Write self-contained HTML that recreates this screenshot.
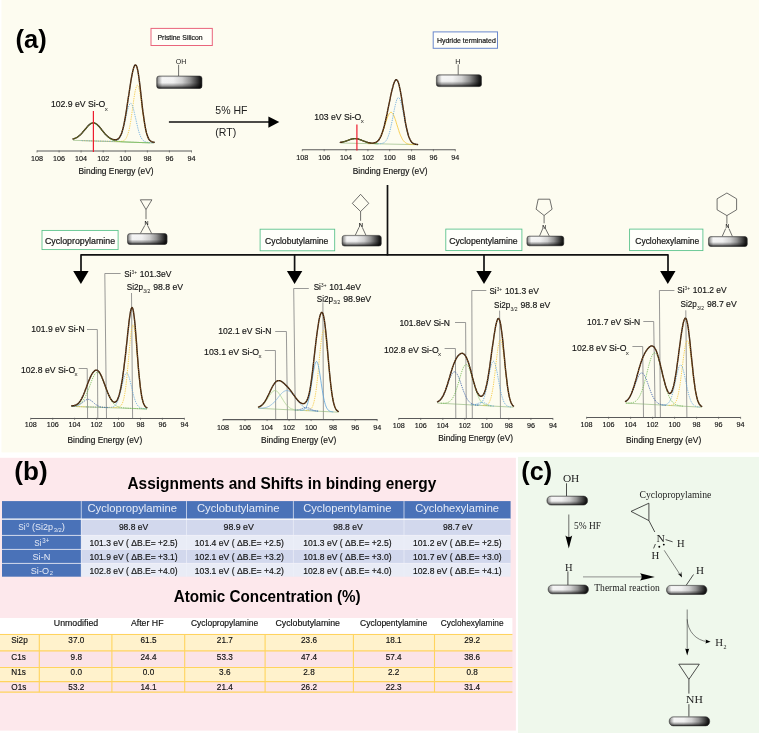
<!DOCTYPE html>
<html lang="en"><head><meta charset="utf-8"><title>XPS Si2p spectra of amine-modified silicon</title>
<style>html,body{margin:0;padding:0;background:#fff}svg{display:block}text{font-family:"Liberation Sans", sans-serif}text.sf{font-family:"Liberation Serif", serif}</style></head><body>
<svg width="759" height="733" viewBox="0 0 759 733">
<defs>
<linearGradient id="sh" x1="0" y1="0" x2="1" y2="0">
<stop offset="0" stop-color="#555"/><stop offset="0.04" stop-color="#a8a8a8"/><stop offset="0.12" stop-color="#f6f6f6"/>
<stop offset="0.36" stop-color="#f3f3f3"/><stop offset="0.56" stop-color="#d2d2d2"/><stop offset="0.73" stop-color="#939393"/>
<stop offset="0.87" stop-color="#484848"/><stop offset="0.95" stop-color="#1c1c1c"/><stop offset="1" stop-color="#101010"/>
</linearGradient>
<linearGradient id="sv" x1="0" y1="0" x2="0" y2="1">
<stop offset="0" stop-color="#000" stop-opacity="0.3"/><stop offset="0.13" stop-color="#000" stop-opacity="0"/>
<stop offset="0.55" stop-color="#000" stop-opacity="0.02"/><stop offset="0.8" stop-color="#000" stop-opacity="0.38"/>
<stop offset="1" stop-color="#000" stop-opacity="0.88"/>
</linearGradient>
</defs>
<rect x="0" y="0" width="759" height="733" fill="#ffffff"/>
<rect x="1.5" y="0" width="757.5" height="452.4" fill="#fdfcf0"/>
<rect x="0" y="457.8" width="515.9" height="272.8" fill="#fde8ec"/>
<rect x="518" y="456.9" width="241" height="276.1" fill="#eff8ec"/>
<text x="15.6" y="47.8" font-size="25" fill="#000" font-weight="bold" textLength="31.2" lengthAdjust="spacingAndGlyphs">(a)</text>
<rect x="151" y="28.4" width="61.3" height="17.1" fill="#fffef8" stroke="#e9647c" stroke-width="1"/>
<text x="157.5" y="39.6" font-size="7.6" fill="#141414" textLength="45.1" lengthAdjust="spacingAndGlyphs" stroke="#141414" stroke-width="0.2">Pristine Silicon</text>
<text x="175.8" y="63.9" font-size="7.6" fill="#222" textLength="10.6" lengthAdjust="spacingAndGlyphs">OH</text>
<line x1="178.6" y1="64.8" x2="178.6" y2="76.0" stroke="#333" stroke-width="0.7" />
<rect x="156.7" y="76.0" width="45.3" height="12.4" rx="2.5" fill="url(#sh)"/>
<rect x="156.7" y="76.0" width="45.3" height="12.4" rx="2.5" fill="url(#sv)" stroke="#3a3a3a" stroke-width="0.55"/>
<line x1="168.9" y1="122.0" x2="270.0" y2="122.0" stroke="#111" stroke-width="1.7" />
<polygon points="268.4,116.4 279.3,122.0 268.4,127.8" fill="#000" stroke="none" stroke-width="0" />
<text x="215.3" y="114.2" font-size="10.5" fill="#222" textLength="32.2" lengthAdjust="spacingAndGlyphs">5% HF</text>
<text x="215.3" y="136.2" font-size="10.5" fill="#222" textLength="21.0" lengthAdjust="spacingAndGlyphs">(RT)</text>
<rect x="433.2" y="31.9" width="64.3" height="16.4" fill="#fffffa" stroke="#6a88cc" stroke-width="1"/>
<text x="436.9" y="43.0" font-size="7.4" fill="#141414" textLength="58.9" lengthAdjust="spacingAndGlyphs" stroke="#141414" stroke-width="0.2">Hydride terminated</text>
<text x="457.9" y="63.6" font-size="7.2" fill="#222" text-anchor="middle">H</text>
<line x1="458.2" y1="64.5" x2="458.2" y2="74.8" stroke="#333" stroke-width="0.7" />
<rect x="436.4" y="74.8" width="45.1" height="11.8" rx="2.5" fill="url(#sh)"/>
<rect x="436.4" y="74.8" width="45.1" height="11.8" rx="2.5" fill="url(#sv)" stroke="#3a3a3a" stroke-width="0.55"/>
<line x1="73.0" y1="140.3" x2="154.1" y2="143.0" stroke="#86b070" stroke-width="0.6" />
<polyline points="82.1,140.6 82.6,140.6 83.1,140.6 83.6,140.6 84.2,140.6 84.7,140.6 85.2,140.7 85.7,140.7 86.2,140.7 86.7,140.7 87.2,140.7 87.7,140.7 88.2,140.8 88.7,140.8 89.2,140.8 89.7,140.8 90.2,140.8 90.7,140.8 91.2,140.8 91.8,140.9 92.3,140.9 92.8,140.9 93.3,140.9 93.8,140.9 94.3,140.9 94.8,141.0 95.3,141.0 95.8,141.0 96.3,141.0 96.8,141.0 97.3,141.0 97.8,141.0 98.3,141.1 98.9,141.1 99.4,141.1 99.9,141.1 100.4,141.1 100.9,141.1 101.4,141.2 101.9,141.2 102.4,141.2 102.9,141.2 103.4,141.2 103.9,141.2 104.4,141.2 104.9,141.2 105.4,141.3 105.9,141.3 106.5,141.3 107.0,141.3 107.5,141.3 108.0,141.3 108.5,141.3 109.0,141.3 109.5,141.4 110.0,141.4 110.5,141.4 111.0,141.4 111.5,141.4 112.0,141.4 112.5,141.4 113.0,141.4 113.5,141.4 114.1,141.4 114.6,141.5 115.1,141.5 115.6,141.5 116.1,141.5 116.6,141.5 117.1,141.5 117.6,141.5 118.1,141.5 118.6,141.5 119.1,141.5 119.6,141.4 120.1,141.4 120.6,141.4 121.2,141.3 121.7,141.3 122.2,141.2 122.7,141.1 123.2,140.9 123.7,140.7 124.2,140.4 124.7,140.0 125.2,139.5 125.7,138.9 126.2,138.1 126.7,137.1 127.2,136.0 127.7,134.6 128.2,133.0 128.8,131.1 129.3,128.9 129.8,126.4 130.3,123.7 130.8,120.7 131.3,117.4 131.8,114.0 132.3,110.4 132.8,106.7 133.3,103.0 133.8,99.5 134.3,96.1 134.8,93.0 135.3,90.4 135.9,88.2 136.4,86.5 136.9,85.5 137.4,85.2 137.9,85.5 138.4,86.6 138.9,88.2 139.4,90.4 139.9,93.1 140.4,96.2 140.9,99.6 141.4,103.2 141.9,106.9 142.4,110.6 142.9,114.2 143.5,117.7 144.0,121.0 144.5,124.1 145.0,126.9 145.5,129.4 146.0,131.6 146.5,133.5 147.0,135.2 147.5,136.6 148.0,137.8 148.5,138.8 149.0,139.6 149.5,140.3 150.0,140.8 150.6,141.2 151.1,141.6 151.6,141.8 152.1,142.0 152.6,142.2 153.1,142.3 153.6,142.4 154.1,142.5" fill="none" stroke="#f5c431" stroke-width="0.8" stroke-dasharray="1.3 1"/>
<polyline points="81.6,140.5 82.1,140.6 82.6,140.6 83.1,140.6 83.6,140.6 84.2,140.6 84.7,140.6 85.2,140.7 85.7,140.7 86.2,140.7 86.7,140.7 87.2,140.7 87.7,140.7 88.2,140.8 88.7,140.8 89.2,140.8 89.7,140.8 90.2,140.8 90.7,140.8 91.2,140.8 91.8,140.9 92.3,140.9 92.8,140.9 93.3,140.9 93.8,140.9 94.3,140.9 94.8,141.0 95.3,141.0 95.8,141.0 96.3,141.0 96.8,141.0 97.3,141.0 97.8,141.0 98.3,141.1 98.9,141.1 99.4,141.1 99.9,141.1 100.4,141.1 100.9,141.1 101.4,141.1 101.9,141.1 102.4,141.2 102.9,141.2 103.4,141.2 103.9,141.2 104.4,141.2 104.9,141.2 105.4,141.2 105.9,141.2 106.5,141.3 107.0,141.3 107.5,141.3 108.0,141.3 108.5,141.3 109.0,141.3 109.5,141.3 110.0,141.3 110.5,141.3 111.0,141.3 111.5,141.3 112.0,141.3 112.5,141.3 113.0,141.3 113.5,141.2 114.1,141.2 114.6,141.1 115.1,141.0 115.6,140.9 116.1,140.8 116.6,140.6 117.1,140.3 117.6,140.0 118.1,139.7 118.6,139.2 119.1,138.6 119.6,137.9 120.1,137.1 120.6,136.1 121.2,135.0 121.7,133.7 122.2,132.3 122.7,130.7 123.2,128.9 123.7,127.0 124.2,124.9 124.7,122.7 125.2,120.5 125.7,118.2 126.2,115.9 126.7,113.6 127.2,111.4 127.7,109.4 128.2,107.6 128.8,106.1 129.3,104.9 129.8,104.0 130.3,103.5 130.8,103.4 131.3,103.7 131.8,104.3 132.3,105.4 132.8,106.8 133.3,108.4 133.8,110.4 134.3,112.5 134.8,114.7 135.3,117.0 135.9,119.4 136.4,121.7 136.9,124.0 137.4,126.1 137.9,128.2 138.4,130.1 138.9,131.8 139.4,133.4 139.9,134.8 140.4,136.1 140.9,137.2 141.4,138.1 141.9,138.9 142.4,139.6 142.9,140.2 143.5,140.7 144.0,141.0 144.5,141.4 145.0,141.6 145.5,141.8 146.0,142.0 146.5,142.1 147.0,142.2 147.5,142.3 148.0,142.4 148.5,142.5 149.0,142.5 149.5,142.6 150.0,142.6 150.6,142.6 151.1,142.7 151.6,142.7 152.1,142.7 152.6,142.8 153.1,142.8 153.6,142.8 154.1,142.8" fill="none" stroke="#5aa2dc" stroke-width="0.8" stroke-dasharray="1.3 1"/>
<polyline points="73.0,139.0 73.5,138.9 74.0,138.7 74.5,138.6 75.0,138.4 75.5,138.1 76.0,137.9 76.5,137.6 77.1,137.3 77.6,137.0 78.1,136.7 78.6,136.3 79.1,135.9 79.6,135.5 80.1,135.0 80.6,134.5 81.1,134.0 81.6,133.5 82.1,133.0 82.6,132.4 83.1,131.8 83.6,131.2 84.2,130.6 84.7,130.0 85.2,129.4 85.7,128.8 86.2,128.2 86.7,127.6 87.2,127.0 87.7,126.4 88.2,125.9 88.7,125.4 89.2,124.9 89.7,124.5 90.2,124.1 90.7,123.8 91.2,123.5 91.8,123.3 92.3,123.2 92.8,123.1 93.3,123.0 93.8,123.0 94.3,123.1 94.8,123.3 95.3,123.5 95.8,123.8 96.3,124.1 96.8,124.5 97.3,124.9 97.8,125.4 98.3,125.9 98.9,126.5 99.4,127.0 99.9,127.6 100.4,128.3 100.9,128.9 101.4,129.5 101.9,130.2 102.4,130.8 102.9,131.5 103.4,132.1 103.9,132.7 104.4,133.3 104.9,133.9 105.4,134.5 105.9,135.1 106.5,135.6 107.0,136.1 107.5,136.6 108.0,137.0 108.5,137.4 109.0,137.8 109.5,138.2 110.0,138.5 110.5,138.9 111.0,139.1 111.5,139.4 112.0,139.7 112.5,139.9 113.0,140.1 113.5,140.3 114.1,140.5 114.6,140.6 115.1,140.7 115.6,140.9 116.1,141.0 116.6,141.1 117.1,141.2 117.6,141.3 118.1,141.3 118.6,141.4 119.1,141.5 119.6,141.5 120.1,141.6 120.6,141.6 121.2,141.7 121.7,141.7 122.2,141.7 122.7,141.8 123.2,141.8 123.7,141.8 124.2,141.8 124.7,141.9 125.2,141.9 125.7,141.9 126.2,141.9 126.7,142.0 127.2,142.0 127.7,142.0 128.2,142.0 128.8,142.1 129.3,142.1 129.8,142.1 130.3,142.1 130.8,142.1 131.3,142.2 131.8,142.2 132.3,142.2 132.8,142.2 133.3,142.2 133.8,142.2 134.3,142.3 134.8,142.3 135.3,142.3 135.9,142.3 136.4,142.3 136.9,142.4 137.4,142.4 137.9,142.4 138.4,142.4 138.9,142.4 139.4,142.5 139.9,142.5 140.4,142.5 140.9,142.5 141.4,142.5 141.9,142.5 142.4,142.6 142.9,142.6 143.5,142.6 144.0,142.6 144.5,142.6 145.0,142.6 145.5,142.7 146.0,142.7 146.5,142.7 147.0,142.7 147.5,142.7 148.0,142.8 148.5,142.8 149.0,142.8 149.5,142.8" fill="none" stroke="#68b84a" stroke-width="0.8" />
<polyline points="73.0,139.0 73.5,138.8 74.0,138.7 74.5,138.5 75.0,138.3 75.5,138.1 76.0,137.8 76.5,137.6 77.1,137.3 77.6,136.9 78.1,136.6 78.6,136.2 79.1,135.8 79.6,135.4 80.1,134.9 80.6,134.5 81.1,134.0 81.6,133.4 82.1,132.9 82.6,132.3 83.1,131.7 83.6,131.1 84.2,130.5 84.7,129.9 85.2,129.3 85.7,128.7 86.2,128.1 86.7,127.5 87.2,126.9 87.7,126.3 88.2,125.8 88.7,125.3 89.2,124.8 89.7,124.4 90.2,124.0 90.7,123.7 91.2,123.4 91.8,123.2 92.3,123.0 92.8,122.9 93.3,122.9 93.8,122.9 94.3,123.0 94.8,123.2 95.3,123.4 95.8,123.6 96.3,124.0 96.8,124.3 97.3,124.8 97.8,125.2 98.3,125.7 98.9,126.3 99.4,126.9 99.9,127.5 100.4,128.1 100.9,128.7 101.4,129.3 101.9,130.0 102.4,130.6 102.9,131.2 103.4,131.9 103.9,132.5 104.4,133.1 104.9,133.7 105.4,134.2 105.9,134.8 106.5,135.3 107.0,135.8 107.5,136.3 108.0,136.7 108.5,137.1 109.0,137.5 109.5,137.8 110.0,138.2 110.5,138.5 111.0,138.7 111.5,139.0 112.0,139.2 112.5,139.4 113.0,139.5 113.5,139.7 114.1,139.8 114.6,139.8 115.1,139.9 115.6,139.8 116.1,139.8 116.6,139.7 117.1,139.5 117.6,139.2 118.1,138.9 118.6,138.4 119.1,137.9 119.6,137.2 120.1,136.4 120.6,135.4 121.2,134.2 121.7,132.9 122.2,131.3 122.7,129.6 123.2,127.6 123.7,125.5 124.2,123.1 124.7,120.5 125.2,117.8 125.7,114.8 126.2,111.8 126.7,108.5 127.2,105.2 127.7,101.8 128.2,98.4 128.8,94.9 129.3,91.5 129.8,88.1 130.3,84.9 130.8,81.7 131.3,78.7 131.8,76.0 132.3,73.4 132.8,71.1 133.3,69.1 133.8,67.4 134.3,66.2 134.8,65.3 135.3,64.9 135.9,65.1 136.4,65.7 136.9,67.0 137.4,68.8 137.9,71.2 138.4,74.1 138.9,77.5 139.4,81.3 139.9,85.4 140.4,89.7 140.9,94.2 141.4,98.7 141.9,103.2 142.4,107.6 142.9,111.7 143.5,115.7 144.0,119.4 144.5,122.7 145.0,125.7 145.5,128.5 146.0,130.8 146.5,132.9 147.0,134.6 147.5,136.1 148.0,137.4 148.5,138.4 149.0,139.3 149.5,140.0 150.0,140.5 150.6,140.9 151.1,141.3 151.6,141.6 152.1,141.8 152.6,142.0 153.1,142.1 153.6,142.2 154.1,142.3" fill="none" stroke="#24160c" stroke-width="1.4" stroke-linejoin="round" stroke-linecap="round"/>
<polyline points="73.0,139.0 73.5,138.8 74.0,138.7 74.5,138.5 75.0,138.3 75.5,138.1 76.0,137.8 76.5,137.6 77.1,137.3 77.6,136.9 78.1,136.6 78.6,136.2 79.1,135.8 79.6,135.4 80.1,134.9 80.6,134.5 81.1,134.0 81.6,133.4 82.1,132.9 82.6,132.3 83.1,131.7 83.6,131.1 84.2,130.5 84.7,129.9 85.2,129.3 85.7,128.7 86.2,128.1 86.7,127.5 87.2,126.9 87.7,126.3 88.2,125.8 88.7,125.3 89.2,124.8 89.7,124.4 90.2,124.0 90.7,123.7 91.2,123.4 91.8,123.2 92.3,123.0 92.8,122.9 93.3,122.9 93.8,122.9 94.3,123.0 94.8,123.2 95.3,123.4 95.8,123.6 96.3,124.0 96.8,124.3 97.3,124.8 97.8,125.2 98.3,125.7 98.9,126.3 99.4,126.9 99.9,127.5 100.4,128.1 100.9,128.7 101.4,129.3 101.9,130.0 102.4,130.6 102.9,131.2 103.4,131.9 103.9,132.5 104.4,133.1 104.9,133.7 105.4,134.2 105.9,134.8 106.5,135.3 107.0,135.8 107.5,136.3 108.0,136.7 108.5,137.1 109.0,137.5 109.5,137.8 110.0,138.2 110.5,138.5 111.0,138.7 111.5,139.0 112.0,139.2 112.5,139.4 113.0,139.5 113.5,139.7 114.1,139.8 114.6,139.8 115.1,139.9 115.6,139.8 116.1,139.8 116.6,139.7 117.1,139.5 117.6,139.2 118.1,138.9 118.6,138.4 119.1,137.9 119.6,137.2 120.1,136.4 120.6,135.4 121.2,134.2 121.7,132.9 122.2,131.3 122.7,129.6 123.2,127.6 123.7,125.5 124.2,123.1 124.7,120.5 125.2,117.8 125.7,114.8 126.2,111.8 126.7,108.5 127.2,105.2 127.7,101.8 128.2,98.4 128.8,94.9 129.3,91.5 129.8,88.1 130.3,84.9 130.8,81.7 131.3,78.7 131.8,76.0 132.3,73.4 132.8,71.1 133.3,69.1 133.8,67.4 134.3,66.2 134.8,65.3 135.3,64.9 135.9,65.1 136.4,65.7 136.9,67.0 137.4,68.8 137.9,71.2 138.4,74.1 138.9,77.5 139.4,81.3 139.9,85.4 140.4,89.7 140.9,94.2 141.4,98.7 141.9,103.2 142.4,107.6 142.9,111.7 143.5,115.7 144.0,119.4 144.5,122.7 145.0,125.7 145.5,128.5 146.0,130.8 146.5,132.9 147.0,134.6 147.5,136.1 148.0,137.4 148.5,138.4 149.0,139.3 149.5,140.0 150.0,140.5 150.6,140.9 151.1,141.3 151.6,141.6 152.1,141.8 152.6,142.0 153.1,142.1 153.6,142.2 154.1,142.3" fill="none" stroke="#c8742a" stroke-width="0.65" stroke-dasharray="1.2 0.9" stroke-linejoin="round"/>
<polyline points="73.0,139.0 73.5,138.9 74.0,138.7 74.5,138.6 75.0,138.4 75.5,138.1 76.0,137.9 76.5,137.6 77.1,137.3 77.6,137.0 78.1,136.7 78.6,136.3 79.1,135.9 79.6,135.5 80.1,135.0 80.6,134.5 81.1,134.0 81.6,133.5 82.1,133.0 82.6,132.4 83.1,131.8 83.6,131.2 84.2,130.6 84.7,130.0 85.2,129.4 85.7,128.8 86.2,128.2 86.7,127.6 87.2,127.0 87.7,126.4 88.2,125.9 88.7,125.4 89.2,124.9 89.7,124.5 90.2,124.1 90.7,123.8 91.2,123.5 91.8,123.3 92.3,123.2 92.8,123.1 93.3,123.0 93.8,123.0 94.3,123.1 94.8,123.3 95.3,123.5 95.8,123.8 96.3,124.1 96.8,124.5 97.3,124.9 97.8,125.4 98.3,125.9 98.9,126.5 99.4,127.0 99.9,127.6 100.4,128.3 100.9,128.9 101.4,129.5 101.9,130.2 102.4,130.8 102.9,131.5 103.4,132.1 103.9,132.7 104.4,133.3 104.9,133.9 105.4,134.5 105.9,135.1 106.5,135.6 107.0,136.1 107.5,136.6 108.0,137.0 108.5,137.4 109.0,137.8 109.5,138.2 110.0,138.5 110.5,138.9 111.0,139.1 111.5,139.4 112.0,139.7 112.5,139.9 113.0,140.1 113.5,140.3 114.1,140.5 114.6,140.6" fill="none" stroke="#68b84a" stroke-width="0.7" stroke-opacity="0.55"/>
<line x1="37.0" y1="151.0" x2="191.5" y2="151.0" stroke="#5a5a5a" stroke-width="1.05" />
<line x1="37.0" y1="150.4" x2="37.0" y2="152.5" stroke="#5a5a5a" stroke-width="0.7" />
<text x="37.0" y="160.5" font-size="7.2" fill="#111" text-anchor="middle" stroke="#111" stroke-width="0.14">108</text>
<line x1="59.1" y1="150.4" x2="59.1" y2="152.5" stroke="#5a5a5a" stroke-width="0.7" />
<text x="59.1" y="160.5" font-size="7.2" fill="#111" text-anchor="middle" stroke="#111" stroke-width="0.14">106</text>
<line x1="81.1" y1="150.4" x2="81.1" y2="152.5" stroke="#5a5a5a" stroke-width="0.7" />
<text x="81.1" y="160.5" font-size="7.2" fill="#111" text-anchor="middle" stroke="#111" stroke-width="0.14">104</text>
<line x1="103.2" y1="150.4" x2="103.2" y2="152.5" stroke="#5a5a5a" stroke-width="0.7" />
<text x="103.2" y="160.5" font-size="7.2" fill="#111" text-anchor="middle" stroke="#111" stroke-width="0.14">102</text>
<line x1="125.3" y1="150.4" x2="125.3" y2="152.5" stroke="#5a5a5a" stroke-width="0.7" />
<text x="125.3" y="160.5" font-size="7.2" fill="#111" text-anchor="middle" stroke="#111" stroke-width="0.14">100</text>
<line x1="147.4" y1="150.4" x2="147.4" y2="152.5" stroke="#5a5a5a" stroke-width="0.7" />
<text x="147.4" y="160.5" font-size="7.2" fill="#111" text-anchor="middle" stroke="#111" stroke-width="0.14">98</text>
<line x1="169.4" y1="150.4" x2="169.4" y2="152.5" stroke="#5a5a5a" stroke-width="0.7" />
<text x="169.4" y="160.5" font-size="7.2" fill="#111" text-anchor="middle" stroke="#111" stroke-width="0.14">96</text>
<line x1="191.5" y1="150.4" x2="191.5" y2="152.5" stroke="#5a5a5a" stroke-width="0.7" />
<text x="191.5" y="160.5" font-size="7.2" fill="#111" text-anchor="middle" stroke="#111" stroke-width="0.14">94</text>
<text x="78.5" y="174.0" font-size="8.4" fill="#111" textLength="75.1" lengthAdjust="spacingAndGlyphs" stroke="#111" stroke-width="0.14">Binding Energy (eV)</text>
<line x1="93.4" y1="111.0" x2="93.4" y2="152.0" stroke="#ee1c2e" stroke-width="1.2" />
<text x="50.9" y="107.2" font-size="8.7" fill="#141414" textLength="54.4" lengthAdjust="spacingAndGlyphs" stroke="#141414" stroke-width="0.16">102.9 eV Si-O</text>
<text x="104.7" y="110.6" font-size="6.2" fill="#141414">x</text>
<line x1="340.3" y1="143.0" x2="417.6" y2="144.7" stroke="#86b070" stroke-width="0.6" />
<polyline points="367.8,143.6 368.3,143.6 368.8,143.6 369.3,143.6 369.8,143.6 370.3,143.6 370.7,143.5 371.2,143.5 371.7,143.5 372.2,143.5 372.7,143.4 373.2,143.3 373.6,143.3 374.1,143.2 374.6,143.0 375.1,142.9 375.6,142.7 376.1,142.4 376.5,142.1 377.0,141.8 377.5,141.4 378.0,140.9 378.5,140.4 379.0,139.8 379.4,139.1 379.9,138.3 380.4,137.5 380.9,136.5 381.4,135.4 381.8,134.3 382.3,133.1 382.8,131.7 383.3,130.3 383.8,128.9 384.3,127.4 384.7,125.8 385.2,124.3 385.7,122.7 386.2,121.2 386.7,119.7 387.2,118.3 387.6,117.0 388.1,115.8 388.6,114.8 389.1,113.9 389.6,113.2 390.1,112.7 390.5,112.4 391.0,112.2 391.5,112.4 392.0,112.7 392.5,113.2 393.0,113.9 393.4,114.8 393.9,115.8 394.4,117.0 394.9,118.4 395.4,119.8 395.9,121.3 396.3,122.8 396.8,124.4 397.3,126.0 397.8,127.5 398.3,129.1 398.8,130.5 399.2,132.0 399.7,133.3 400.2,134.6 400.7,135.8 401.2,136.8 401.7,137.8 402.1,138.7 402.6,139.6 403.1,140.3 403.6,140.9 404.1,141.5 404.6,142.0 405.0,142.4 405.5,142.7 406.0,143.1 406.5,143.3 407.0,143.5 407.5,143.7 407.9,143.9 408.4,144.0 408.9,144.1 409.4,144.2 409.9,144.3 410.4,144.3 410.8,144.4 411.3,144.4 411.8,144.5 412.3,144.5 412.8,144.5 413.3,144.5 413.7,144.6 414.2,144.6" fill="none" stroke="#f5c431" stroke-width="0.8" />
<polyline points="375.6,143.7 376.1,143.7 376.5,143.7 377.0,143.8 377.5,143.8 378.0,143.8 378.5,143.7 379.0,143.7 379.4,143.7 379.9,143.7 380.4,143.7 380.9,143.6 381.4,143.5 381.8,143.5 382.3,143.3 382.8,143.2 383.3,143.0 383.8,142.8 384.3,142.5 384.7,142.1 385.2,141.7 385.7,141.1 386.2,140.5 386.7,139.8 387.2,138.9 387.6,137.8 388.1,136.7 388.6,135.3 389.1,133.9 389.6,132.2 390.1,130.4 390.5,128.4 391.0,126.2 391.5,124.0 392.0,121.6 392.5,119.1 393.0,116.6 393.4,114.1 393.9,111.6 394.4,109.2 394.9,106.9 395.4,104.7 395.9,102.8 396.3,101.1 396.8,99.7 397.3,98.7 397.8,97.9 398.3,97.6 398.8,97.6 399.2,98.0 399.7,98.8 400.2,99.9 400.7,101.4 401.2,103.1 401.7,105.1 402.1,107.3 402.6,109.6 403.1,112.1 403.6,114.6 404.1,117.1 404.6,119.7 405.0,122.1 405.5,124.5 406.0,126.8 406.5,129.0 407.0,130.9 407.5,132.8 407.9,134.4 408.4,135.9 408.9,137.3 409.4,138.4 409.9,139.5 410.4,140.4 410.8,141.1 411.3,141.8 411.8,142.3 412.3,142.8 412.8,143.1 413.3,143.5 413.7,143.7 414.2,143.9 414.7,144.1 415.2,144.2 415.7,144.3 416.2,144.4 416.6,144.5 417.1,144.5 417.6,144.6" fill="none" stroke="#5aa2dc" stroke-width="0.8" stroke-dasharray="1.3 1"/>
<polyline points="340.3,142.4 340.8,142.4 341.3,142.3 341.7,142.2 342.2,142.1 342.7,142.0 343.2,141.9 343.7,141.7 344.2,141.6 344.6,141.5 345.1,141.3 345.6,141.2 346.1,141.0 346.6,140.8 347.1,140.7 347.5,140.5 348.0,140.3 348.5,140.1 349.0,139.9 349.5,139.8 350.0,139.6 350.4,139.4 350.9,139.3 351.4,139.2 351.9,139.0 352.4,138.9 352.9,138.8 353.3,138.7 353.8,138.7 354.3,138.6 354.8,138.6 355.3,138.6 355.8,138.6 356.2,138.7 356.7,138.7 357.2,138.8 357.7,138.9 358.2,139.0 358.7,139.2 359.1,139.3 359.6,139.5 360.1,139.7 360.6,139.8 361.1,140.0 361.6,140.2 362.0,140.4 362.5,140.6 363.0,140.8 363.5,141.0 364.0,141.2 364.5,141.4 364.9,141.6 365.4,141.8 365.9,141.9 366.4,142.1 366.9,142.3 367.4,142.4 367.8,142.5 368.3,142.7 368.8,142.8 369.3,142.9 369.8,143.0 370.3,143.1 370.7,143.2 371.2,143.2 371.7,143.3 372.2,143.4 372.7,143.4 373.2,143.5 373.6,143.5 374.1,143.6 374.6,143.6 375.1,143.6 375.6,143.7 376.1,143.7 376.5,143.7 377.0,143.7 377.5,143.8 378.0,143.8" fill="none" stroke="#68b84a" stroke-width="0.8" />
<polyline points="340.3,142.4 340.8,142.3 341.3,142.3 341.7,142.2 342.2,142.1 342.7,142.0 343.2,141.9 343.7,141.7 344.2,141.6 344.6,141.5 345.1,141.3 345.6,141.1 346.1,141.0 346.6,140.8 347.1,140.6 347.5,140.5 348.0,140.3 348.5,140.1 349.0,139.9 349.5,139.8 350.0,139.6 350.4,139.4 350.9,139.3 351.4,139.1 351.9,139.0 352.4,138.9 352.9,138.8 353.3,138.7 353.8,138.7 354.3,138.6 354.8,138.6 355.3,138.6 355.8,138.6 356.2,138.7 356.7,138.7 357.2,138.8 357.7,138.9 358.2,139.0 358.7,139.2 359.1,139.3 359.6,139.5 360.1,139.6 360.6,139.8 361.1,140.0 361.6,140.2 362.0,140.4 362.5,140.6 363.0,140.8 363.5,141.0 364.0,141.2 364.5,141.4 364.9,141.5 365.4,141.7 365.9,141.9 366.4,142.1 366.9,142.2 367.4,142.3 367.8,142.5 368.3,142.6 368.8,142.7 369.3,142.8 369.8,142.9 370.3,143.0 370.7,143.0 371.2,143.1 371.7,143.1 372.2,143.1 372.7,143.1 373.2,143.1 373.6,143.0 374.1,142.9 374.6,142.8 375.1,142.7 375.6,142.5 376.1,142.3 376.5,142.0 377.0,141.7 377.5,141.3 378.0,140.8 378.5,140.3 379.0,139.7 379.4,138.9 379.9,138.1 380.4,137.2 380.9,136.2 381.4,135.1 381.8,133.8 382.3,132.5 382.8,131.0 383.3,129.4 383.8,127.7 384.3,125.9 384.7,124.0 385.2,122.0 385.7,119.9 386.2,117.7 386.7,115.5 387.2,113.2 387.6,110.8 388.1,108.4 388.6,106.1 389.1,103.7 389.6,101.3 390.1,98.9 390.5,96.6 391.0,94.4 391.5,92.2 392.0,90.1 392.5,88.2 393.0,86.4 393.4,84.7 393.9,83.3 394.4,82.0 394.9,81.0 395.4,80.3 395.9,79.8 396.3,79.7 396.8,79.9 397.3,80.4 397.8,81.2 398.3,82.4 398.8,83.9 399.2,85.7 399.7,87.8 400.2,90.2 400.7,92.8 401.2,95.6 401.7,98.6 402.1,101.6 402.6,104.8 403.1,108.0 403.6,111.1 404.1,114.2 404.6,117.2 405.0,120.1 405.5,122.8 406.0,125.4 406.5,127.8 407.0,130.0 407.5,132.0 407.9,133.8 408.4,135.5 408.9,136.9 409.4,138.1 409.9,139.2 410.4,140.2 410.8,141.0 411.3,141.6 411.8,142.2 412.3,142.7 412.8,143.1 413.3,143.4 413.7,143.7 414.2,143.9 414.7,144.0 415.2,144.2 415.7,144.3 416.2,144.4 416.6,144.4 417.1,144.5 417.6,144.5" fill="none" stroke="#24160c" stroke-width="1.4" stroke-linejoin="round" stroke-linecap="round"/>
<polyline points="340.3,142.4 340.8,142.3 341.3,142.3 341.7,142.2 342.2,142.1 342.7,142.0 343.2,141.9 343.7,141.7 344.2,141.6 344.6,141.5 345.1,141.3 345.6,141.1 346.1,141.0 346.6,140.8 347.1,140.6 347.5,140.5 348.0,140.3 348.5,140.1 349.0,139.9 349.5,139.8 350.0,139.6 350.4,139.4 350.9,139.3 351.4,139.1 351.9,139.0 352.4,138.9 352.9,138.8 353.3,138.7 353.8,138.7 354.3,138.6 354.8,138.6 355.3,138.6 355.8,138.6 356.2,138.7 356.7,138.7 357.2,138.8 357.7,138.9 358.2,139.0 358.7,139.2 359.1,139.3 359.6,139.5 360.1,139.6 360.6,139.8 361.1,140.0 361.6,140.2 362.0,140.4 362.5,140.6 363.0,140.8 363.5,141.0 364.0,141.2 364.5,141.4 364.9,141.5 365.4,141.7 365.9,141.9 366.4,142.1 366.9,142.2 367.4,142.3 367.8,142.5 368.3,142.6 368.8,142.7 369.3,142.8 369.8,142.9 370.3,143.0 370.7,143.0 371.2,143.1 371.7,143.1 372.2,143.1 372.7,143.1 373.2,143.1 373.6,143.0 374.1,142.9 374.6,142.8 375.1,142.7 375.6,142.5 376.1,142.3 376.5,142.0 377.0,141.7 377.5,141.3 378.0,140.8 378.5,140.3 379.0,139.7 379.4,138.9 379.9,138.1 380.4,137.2 380.9,136.2 381.4,135.1 381.8,133.8 382.3,132.5 382.8,131.0 383.3,129.4 383.8,127.7 384.3,125.9 384.7,124.0 385.2,122.0 385.7,119.9 386.2,117.7 386.7,115.5 387.2,113.2 387.6,110.8 388.1,108.4 388.6,106.1 389.1,103.7 389.6,101.3 390.1,98.9 390.5,96.6 391.0,94.4 391.5,92.2 392.0,90.1 392.5,88.2 393.0,86.4 393.4,84.7 393.9,83.3 394.4,82.0 394.9,81.0 395.4,80.3 395.9,79.8 396.3,79.7 396.8,79.9 397.3,80.4 397.8,81.2 398.3,82.4 398.8,83.9 399.2,85.7 399.7,87.8 400.2,90.2 400.7,92.8 401.2,95.6 401.7,98.6 402.1,101.6 402.6,104.8 403.1,108.0 403.6,111.1 404.1,114.2 404.6,117.2 405.0,120.1 405.5,122.8 406.0,125.4 406.5,127.8 407.0,130.0 407.5,132.0 407.9,133.8 408.4,135.5 408.9,136.9 409.4,138.1 409.9,139.2 410.4,140.2 410.8,141.0 411.3,141.6 411.8,142.2 412.3,142.7 412.8,143.1 413.3,143.4 413.7,143.7 414.2,143.9 414.7,144.0 415.2,144.2 415.7,144.3 416.2,144.4 416.6,144.4 417.1,144.5 417.6,144.5" fill="none" stroke="#c8742a" stroke-width="0.65" stroke-dasharray="1.2 0.9" stroke-linejoin="round"/>
<polyline points="342.7,142.0 343.2,141.9 343.7,141.7 344.2,141.6 344.6,141.5 345.1,141.3 345.6,141.2 346.1,141.0 346.6,140.8 347.1,140.7 347.5,140.5 348.0,140.3 348.5,140.1 349.0,139.9 349.5,139.8 350.0,139.6 350.4,139.4 350.9,139.3 351.4,139.2 351.9,139.0 352.4,138.9 352.9,138.8 353.3,138.7 353.8,138.7 354.3,138.6 354.8,138.6 355.3,138.6 355.8,138.6 356.2,138.7 356.7,138.7 357.2,138.8 357.7,138.9 358.2,139.0 358.7,139.2 359.1,139.3 359.6,139.5 360.1,139.7 360.6,139.8 361.1,140.0 361.6,140.2 362.0,140.4 362.5,140.6 363.0,140.8 363.5,141.0 364.0,141.2 364.5,141.4 364.9,141.6 365.4,141.8 365.9,141.9 366.4,142.1 366.9,142.3 367.4,142.4 367.8,142.5" fill="none" stroke="#68b84a" stroke-width="0.7" stroke-opacity="0.55"/>
<line x1="302.3" y1="149.8" x2="455.3" y2="149.8" stroke="#5a5a5a" stroke-width="1.05" />
<line x1="302.3" y1="149.2" x2="302.3" y2="151.3" stroke="#5a5a5a" stroke-width="0.7" />
<text x="302.3" y="160.1" font-size="7.2" fill="#111" text-anchor="middle" stroke="#111" stroke-width="0.14">108</text>
<line x1="324.2" y1="149.2" x2="324.2" y2="151.3" stroke="#5a5a5a" stroke-width="0.7" />
<text x="324.2" y="160.1" font-size="7.2" fill="#111" text-anchor="middle" stroke="#111" stroke-width="0.14">106</text>
<line x1="346.0" y1="149.2" x2="346.0" y2="151.3" stroke="#5a5a5a" stroke-width="0.7" />
<text x="346.0" y="160.1" font-size="7.2" fill="#111" text-anchor="middle" stroke="#111" stroke-width="0.14">104</text>
<line x1="367.9" y1="149.2" x2="367.9" y2="151.3" stroke="#5a5a5a" stroke-width="0.7" />
<text x="367.9" y="160.1" font-size="7.2" fill="#111" text-anchor="middle" stroke="#111" stroke-width="0.14">102</text>
<line x1="389.7" y1="149.2" x2="389.7" y2="151.3" stroke="#5a5a5a" stroke-width="0.7" />
<text x="389.7" y="160.1" font-size="7.2" fill="#111" text-anchor="middle" stroke="#111" stroke-width="0.14">100</text>
<line x1="411.6" y1="149.2" x2="411.6" y2="151.3" stroke="#5a5a5a" stroke-width="0.7" />
<text x="411.6" y="160.1" font-size="7.2" fill="#111" text-anchor="middle" stroke="#111" stroke-width="0.14">98</text>
<line x1="433.4" y1="149.2" x2="433.4" y2="151.3" stroke="#5a5a5a" stroke-width="0.7" />
<text x="433.4" y="160.1" font-size="7.2" fill="#111" text-anchor="middle" stroke="#111" stroke-width="0.14">96</text>
<line x1="455.3" y1="149.2" x2="455.3" y2="151.3" stroke="#5a5a5a" stroke-width="0.7" />
<text x="455.3" y="160.1" font-size="7.2" fill="#111" text-anchor="middle" stroke="#111" stroke-width="0.14">94</text>
<text x="352.8" y="174.0" font-size="8.4" fill="#111" textLength="74.7" lengthAdjust="spacingAndGlyphs" stroke="#111" stroke-width="0.14">Binding Energy (eV)</text>
<line x1="356.9" y1="124.5" x2="356.9" y2="150.5" stroke="#ee1c2e" stroke-width="1.2" />
<text x="314.2" y="119.8" font-size="8.7" fill="#141414" textLength="47.1" lengthAdjust="spacingAndGlyphs" stroke="#141414" stroke-width="0.16">103 eV Si-O</text>
<text x="360.7" y="123.2" font-size="6.2" fill="#141414">x</text>
<line x1="387.5" y1="185.0" x2="387.5" y2="255.5" stroke="#111" stroke-width="1.7" />
<polyline points="81.0,272.0 81.0,254.8 668.0,254.8 668.0,272.0" fill="none" stroke="#111" stroke-width="1.7" stroke-linejoin="round"/>
<line x1="294.6" y1="254.8" x2="294.6" y2="272.0" stroke="#111" stroke-width="1.7" />
<line x1="484.0" y1="254.8" x2="484.0" y2="272.0" stroke="#111" stroke-width="1.7" />
<polygon points="73.2,271.1 88.6,271.1 80.9,284.0" fill="#000" stroke="none" stroke-width="0" />
<polygon points="286.9,271.1 302.3,271.1 294.6,284.0" fill="#000" stroke="none" stroke-width="0" />
<polygon points="476.3,271.1 491.7,271.1 484.0,284.0" fill="#000" stroke="none" stroke-width="0" />
<polygon points="660.1,271.1 675.5,271.1 667.8,284.0" fill="#000" stroke="none" stroke-width="0" />
<rect x="42" y="230.4" width="76.1" height="19.2" fill="#fffffb" stroke="#55c088" stroke-width="0.85"/>
<text x="45.0" y="243.7" font-size="9.0" fill="#161616" textLength="70.1" lengthAdjust="spacingAndGlyphs" stroke="#1a1a1a" stroke-width="0.22">Cyclopropylamine</text>
<rect x="260.1" y="229.2" width="74.6" height="21.6" fill="#fffffb" stroke="#55c088" stroke-width="0.85"/>
<text x="265.1" y="243.7" font-size="9.0" fill="#161616" textLength="63.3" lengthAdjust="spacingAndGlyphs" stroke="#1a1a1a" stroke-width="0.22">Cyclobutylamine</text>
<rect x="445.8" y="229.1" width="76.1" height="21.5" fill="#fffffb" stroke="#55c088" stroke-width="0.85"/>
<text x="449.3" y="243.7" font-size="9.0" fill="#161616" textLength="68.3" lengthAdjust="spacingAndGlyphs" stroke="#1a1a1a" stroke-width="0.22">Cyclopentylamine</text>
<rect x="629.6" y="229.1" width="73.3" height="21.5" fill="#fffffb" stroke="#55c088" stroke-width="0.85"/>
<text x="635.3" y="243.7" font-size="9.0" fill="#161616" textLength="63.9" lengthAdjust="spacingAndGlyphs" stroke="#1a1a1a" stroke-width="0.22">Cyclohexylamine</text>
<polygon points="140.3,199.8 151.9,199.8 146.0,209.6" fill="none" stroke="#333" stroke-width="0.7" />
<line x1="146.0" y1="209.6" x2="146.0" y2="219.2" stroke="#333" stroke-width="0.7" />
<text x="146.4" y="224.9" font-size="5.6" fill="#2a2a2a" text-anchor="middle" font-weight="bold">N</text>
<line x1="144.9" y1="225.3" x2="140.3" y2="233.6" stroke="#333" stroke-width="0.7" />
<line x1="147.5" y1="225.3" x2="151.7" y2="233.6" stroke="#333" stroke-width="0.7" />
<rect x="127.5" y="233.6" width="39.6" height="10.8" rx="2.5" fill="url(#sh)"/>
<rect x="127.5" y="233.6" width="39.6" height="10.8" rx="2.5" fill="url(#sv)" stroke="#3a3a3a" stroke-width="0.55"/>
<polygon points="360.6,194.3 368.8,203.4 360.6,211.5 352.3,203.4" fill="none" stroke="#333" stroke-width="0.7" />
<line x1="360.6" y1="211.5" x2="360.6" y2="220.8" stroke="#333" stroke-width="0.7" />
<text x="360.8" y="226.5" font-size="5.9" fill="#2a2a2a" text-anchor="middle" font-weight="bold">N</text>
<line x1="359.1" y1="227.2" x2="355.3" y2="235.2" stroke="#333" stroke-width="0.7" />
<line x1="362.2" y1="227.2" x2="365.9" y2="235.2" stroke="#333" stroke-width="0.7" />
<rect x="342.1" y="235.4" width="39.2" height="10.7" rx="2.5" fill="url(#sh)"/>
<rect x="342.1" y="235.4" width="39.2" height="10.7" rx="2.5" fill="url(#sv)" stroke="#3a3a3a" stroke-width="0.55"/>
<polygon points="538.2,199.2 549.8,199.2 552.1,209.2 544.1,215.5 536.1,209.2" fill="none" stroke="#333" stroke-width="0.7" />
<line x1="544.1" y1="215.5" x2="544.1" y2="223.3" stroke="#333" stroke-width="0.7" />
<text x="544.2" y="228.5" font-size="5.2" fill="#2a2a2a" text-anchor="middle" font-weight="bold">N</text>
<line x1="542.7" y1="228.7" x2="539.6" y2="235.9" stroke="#333" stroke-width="0.7" />
<line x1="545.5" y1="228.7" x2="549.2" y2="235.9" stroke="#333" stroke-width="0.7" />
<rect x="526.9" y="236.1" width="36.9" height="9.7" rx="2.5" fill="url(#sh)"/>
<rect x="526.9" y="236.1" width="36.9" height="9.7" rx="2.5" fill="url(#sv)" stroke="#3a3a3a" stroke-width="0.55"/>
<polygon points="726.9,193.0 736.6,198.8 736.6,209.8 726.9,215.6 717.1,209.8 717.1,198.8" fill="none" stroke="#333" stroke-width="0.7" />
<line x1="726.9" y1="215.6" x2="726.9" y2="223.8" stroke="#333" stroke-width="0.7" />
<text x="727.4" y="228.1" font-size="5.2" fill="#2a2a2a" text-anchor="middle" font-weight="bold">N</text>
<line x1="725.7" y1="228.5" x2="722.2" y2="236.4" stroke="#333" stroke-width="0.7" />
<line x1="728.9" y1="228.5" x2="732.4" y2="236.4" stroke="#333" stroke-width="0.7" />
<rect x="708.5" y="236.6" width="38.8" height="9.9" rx="2.5" fill="url(#sh)"/>
<rect x="708.5" y="236.6" width="38.8" height="9.9" rx="2.5" fill="url(#sv)" stroke="#3a3a3a" stroke-width="0.55"/>
<polyline points="78.7,368.5 87.2,368.5 87.6,418.4" fill="none" stroke="#808080" stroke-width="0.8" />
<polyline points="87.0,329.5 97.3,329.5 97.8,418.4" fill="none" stroke="#808080" stroke-width="0.8" />
<polyline points="120.6,273.5 104.8,273.5 106.5,418.4" fill="none" stroke="#808080" stroke-width="0.8" />
<polyline points="131.5,293.0 132.6,418.4" fill="none" stroke="#808080" stroke-width="0.8" />
<line x1="71.7" y1="406.4" x2="146.9" y2="409.0" stroke="#86b070" stroke-width="0.6" />
<polyline points="76.4,406.5 76.9,406.5 77.3,406.6 77.8,406.6 78.3,406.6 78.8,406.6 79.2,406.6 79.7,406.6 80.2,406.6 80.6,406.7 81.1,406.7 81.6,406.7 82.0,406.7 82.5,406.7 83.0,406.7 83.5,406.8 83.9,406.8 84.4,406.8 84.9,406.8 85.3,406.8 85.8,406.8 86.3,406.8 86.7,406.9 87.2,406.9 87.7,406.9 88.2,406.9 88.6,406.9 89.1,406.9 89.6,406.9 90.0,407.0 90.5,407.0 91.0,407.0 91.4,407.0 91.9,407.0 92.4,407.0 92.8,407.1 93.3,407.1 93.8,407.1 94.3,407.1 94.7,407.1 95.2,407.1 95.7,407.1 96.1,407.2 96.6,407.2 97.1,407.2 97.6,407.2 98.0,407.2 98.5,407.2 99.0,407.2 99.4,407.2 99.9,407.3 100.4,407.3 100.8,407.3 101.3,407.3 101.8,407.3 102.2,407.3 102.7,407.3 103.2,407.3 103.7,407.4 104.1,407.4 104.6,407.4 105.1,407.4 105.5,407.4 106.0,407.4 106.5,407.4 107.0,407.4 107.4,407.4 107.9,407.5 108.4,407.5 108.8,407.5 109.3,407.5 109.8,407.5 110.2,407.5 110.7,407.5 111.2,407.5 111.7,407.5 112.1,407.5 112.6,407.5 113.1,407.5 113.5,407.5 114.0,407.5 114.5,407.5 114.9,407.5 115.4,407.5 115.9,407.5 116.3,407.5 116.8,407.4 117.3,407.4 117.8,407.3 118.2,407.2 118.7,407.1 119.2,406.9 119.6,406.7 120.1,406.4 120.6,406.0 121.1,405.5 121.5,404.9 122.0,404.1 122.5,403.1 122.9,401.8 123.4,400.2 123.9,398.4 124.3,396.1 124.8,393.5 125.3,390.5 125.8,387.1 126.2,383.2 126.7,379.0 127.2,374.3 127.6,369.4 128.1,364.2 128.6,358.8 129.0,353.4 129.5,348.1 130.0,343.0 130.4,338.3 130.9,334.1 131.4,330.6 131.9,327.8 132.3,325.9 132.8,325.0 133.3,325.1 133.7,326.1 134.2,328.2 134.7,331.0 135.2,334.7 135.6,339.0 136.1,343.8 136.6,348.9 137.0,354.3 137.5,359.7 138.0,365.1 138.4,370.3 138.9,375.2 139.4,379.9 139.9,384.1 140.3,388.0 140.8,391.4 141.3,394.4 141.7,397.0 142.2,399.2 142.7,401.1 143.1,402.6 143.6,403.9 144.1,404.9 144.6,405.8 145.0,406.4 145.5,407.0 146.0,407.4 146.4,407.7 146.9,407.9" fill="none" stroke="#f5c431" stroke-width="0.8" stroke-dasharray="1.3 1"/>
<polyline points="85.8,406.8 86.3,406.9 86.7,406.9 87.2,406.9 87.7,406.9 88.2,406.9 88.6,406.9 89.1,407.0 89.6,407.0 90.0,407.0 90.5,407.0 91.0,407.0 91.4,407.0 91.9,407.0 92.4,407.1 92.8,407.1 93.3,407.1 93.8,407.1 94.3,407.1 94.7,407.1 95.2,407.1 95.7,407.2 96.1,407.2 96.6,407.2 97.1,407.2 97.6,407.2 98.0,407.2 98.5,407.2 99.0,407.3 99.4,407.3 99.9,407.3 100.4,407.3 100.8,407.3 101.3,407.3 101.8,407.3 102.2,407.3 102.7,407.4 103.2,407.4 103.7,407.4 104.1,407.4 104.6,407.4 105.1,407.4 105.5,407.4 106.0,407.4 106.5,407.4 107.0,407.4 107.4,407.4 107.9,407.4 108.4,407.4 108.8,407.4 109.3,407.4 109.8,407.4 110.2,407.4 110.7,407.3 111.2,407.3 111.7,407.2 112.1,407.1 112.6,407.0 113.1,406.8 113.5,406.6 114.0,406.3 114.5,406.0 114.9,405.6 115.4,405.1 115.9,404.5 116.3,403.8 116.8,403.0 117.3,402.0 117.8,401.0 118.2,399.8 118.7,398.4 119.2,396.9 119.6,395.3 120.1,393.6 120.6,391.7 121.1,389.8 121.5,387.8 122.0,385.8 122.5,383.8 122.9,381.9 123.4,380.0 123.9,378.3 124.3,376.8 124.8,375.4 125.3,374.4 125.8,373.6 126.2,373.1 126.7,373.0 127.2,373.2 127.6,373.7 128.1,374.6 128.6,375.7 129.0,377.0 129.5,378.6 130.0,380.4 130.4,382.3 130.9,384.3 131.4,386.3 131.9,388.3 132.3,390.3 132.8,392.3 133.3,394.2 133.7,395.9 134.2,397.6 134.7,399.1 135.2,400.5 135.6,401.7 136.1,402.8 136.6,403.7 137.0,404.6 137.5,405.3 138.0,405.9 138.4,406.4 138.9,406.9 139.4,407.2 139.9,407.5 140.3,407.8 140.8,408.0 141.3,408.1 141.7,408.3 142.2,408.4 142.7,408.4 143.1,408.5 143.6,408.6 144.1,408.6 144.6,408.7 145.0,408.7 145.5,408.8 146.0,408.8 146.4,408.8 146.9,408.8" fill="none" stroke="#5aa2dc" stroke-width="0.8" stroke-dasharray="1.3 1"/>
<polyline points="71.7,406.0 72.2,406.0 72.6,406.0 73.1,406.0 73.6,405.9 74.0,405.9 74.5,405.8 75.0,405.8 75.5,405.7 75.9,405.6 76.4,405.5 76.9,405.3 77.3,405.2 77.8,405.0 78.3,404.8 78.8,404.5 79.2,404.3 79.7,403.9 80.2,403.6 80.6,403.2 81.1,402.8 81.6,402.3 82.0,401.8 82.5,401.2 83.0,400.6 83.5,399.9 83.9,399.2 84.4,398.4 84.9,397.5 85.3,396.6 85.8,395.7 86.3,394.6 86.7,393.6 87.2,392.5 87.7,391.3 88.2,390.1 88.6,388.9 89.1,387.7 89.6,386.4 90.0,385.2 90.5,383.9 91.0,382.6 91.4,381.4 91.9,380.2 92.4,379.1 92.8,378.0 93.3,377.0 93.8,376.0 94.3,375.2 94.7,374.4 95.2,373.7 95.7,373.2 96.1,372.8 96.6,372.5 97.1,372.3 97.6,372.3 98.0,372.4 98.5,372.6 99.0,372.9 99.4,373.4 99.9,374.0 100.4,374.7 100.8,375.6 101.3,376.5 101.8,377.5 102.2,378.5 102.7,379.7 103.2,380.9 103.7,382.1 104.1,383.4 104.6,384.7 105.1,385.9 105.5,387.2 106.0,388.5 106.5,389.8 107.0,391.0 107.4,392.2 107.9,393.4 108.4,394.6 108.8,395.6 109.3,396.7 109.8,397.7 110.2,398.6 110.7,399.5 111.2,400.3 111.7,401.0 112.1,401.7 112.6,402.4 113.1,403.0 113.5,403.5 114.0,404.0 114.5,404.5 114.9,404.9 115.4,405.3 115.9,405.6 116.3,405.9 116.8,406.1 117.3,406.4 117.8,406.6 118.2,406.8 118.7,406.9 119.2,407.1 119.6,407.2 120.1,407.3 120.6,407.4 121.1,407.5 121.5,407.6 122.0,407.7 122.5,407.7 122.9,407.8 123.4,407.8 123.9,407.9 124.3,407.9 124.8,408.0 125.3,408.0 125.8,408.0 126.2,408.1 126.7,408.1 127.2,408.1 127.6,408.1 128.1,408.2 128.6,408.2 129.0,408.2 129.5,408.2 130.0,408.3 130.4,408.3 130.9,408.3 131.4,408.3 131.9,408.3 132.3,408.4 132.8,408.4 133.3,408.4 133.7,408.4 134.2,408.4 134.7,408.5 135.2,408.5 135.6,408.5 136.1,408.5 136.6,408.5 137.0,408.6 137.5,408.6 138.0,408.6 138.4,408.6 138.9,408.6 139.4,408.6 139.9,408.7 140.3,408.7 140.8,408.7 141.3,408.7 141.7,408.7 142.2,408.8 142.7,408.8 143.1,408.8 143.6,408.8 144.1,408.8 144.6,408.8 145.0,408.9 145.5,408.9 146.0,408.9 146.4,408.9 146.9,408.9" fill="none" stroke="#68b84a" stroke-width="0.8" stroke-dasharray="1.3 1"/>
<polyline points="71.7,406.3 72.2,406.3 72.6,406.3 73.1,406.3 73.6,406.2 74.0,406.2 74.5,406.2 75.0,406.1 75.5,406.1 75.9,406.0 76.4,405.9 76.9,405.8 77.3,405.6 77.8,405.5 78.3,405.3 78.8,405.1 79.2,404.9 79.7,404.6 80.2,404.3 80.6,404.0 81.1,403.7 81.6,403.3 82.0,402.9 82.5,402.6 83.0,402.2 83.5,401.8 83.9,401.4 84.4,401.0 84.9,400.7 85.3,400.3 85.8,400.1 86.3,399.8 86.7,399.6 87.2,399.5 87.7,399.4 88.2,399.4 88.6,399.4 89.1,399.5 89.6,399.7 90.0,399.9 90.5,400.2 91.0,400.5 91.4,400.8 91.9,401.2 92.4,401.6 92.8,402.0 93.3,402.4 93.8,402.8 94.3,403.3 94.7,403.7 95.2,404.1 95.7,404.4 96.1,404.8 96.6,405.1 97.1,405.4 97.6,405.7 98.0,405.9 98.5,406.1 99.0,406.3 99.4,406.5 99.9,406.7 100.4,406.8 100.8,406.9 101.3,407.0 101.8,407.1 102.2,407.2 102.7,407.2 103.2,407.3 103.7,407.3 104.1,407.4 104.6,407.4 105.1,407.5 105.5,407.5 106.0,407.5 106.5,407.5 107.0,407.6 107.4,407.6 107.9,407.6 108.4,407.6 108.8,407.6" fill="none" stroke="#2f55a4" stroke-width="0.8" stroke-dasharray="1.3 1"/>
<polyline points="71.7,405.9 72.2,405.8 72.6,405.8 73.1,405.7 73.6,405.7 74.0,405.6 74.5,405.4 75.0,405.3 75.5,405.1 75.9,404.9 76.4,404.7 76.9,404.4 77.3,404.1 77.8,403.8 78.3,403.4 78.8,402.9 79.2,402.4 79.7,401.8 80.2,401.1 80.6,400.4 81.1,399.6 81.6,398.8 82.0,397.9 82.5,396.9 83.0,395.9 83.5,394.8 83.9,393.6 84.4,392.5 84.9,391.2 85.3,390.0 85.8,388.7 86.3,387.4 86.7,386.2 87.2,384.9 87.7,383.6 88.2,382.4 88.6,381.2 89.1,380.1 89.6,379.0 90.0,377.9 90.5,376.9 91.0,375.9 91.4,375.0 91.9,374.2 92.4,373.4 92.8,372.7 93.3,372.1 93.8,371.5 94.3,371.1 94.7,370.7 95.2,370.4 95.7,370.2 96.1,370.1 96.6,370.1 97.1,370.2 97.6,370.5 98.0,370.8 98.5,371.2 99.0,371.7 99.4,372.4 99.9,373.1 100.4,373.9 100.8,374.9 101.3,375.8 101.8,376.9 102.2,378.0 102.7,379.2 103.2,380.4 103.7,381.7 104.1,383.0 104.6,384.2 105.1,385.5 105.5,386.8 106.0,388.1 106.5,389.4 107.0,390.6 107.4,391.8 107.9,393.0 108.4,394.1 108.8,395.1 109.3,396.1 109.8,397.1 110.2,398.0 110.7,398.8 111.2,399.5 111.7,400.2 112.1,400.7 112.6,401.2 113.1,401.6 113.5,401.9 114.0,402.1 114.5,402.2 114.9,402.2 115.4,402.0 115.9,401.7 116.3,401.2 116.8,400.6 117.3,399.8 117.8,398.9 118.2,397.7 118.7,396.4 119.2,394.9 119.6,393.1 120.1,391.2 120.6,389.0 121.1,386.6 121.5,384.0 122.0,381.3 122.5,378.3 122.9,375.1 123.4,371.7 123.9,368.1 124.3,364.4 124.8,360.5 125.3,356.4 125.8,352.2 126.2,347.9 126.7,343.5 127.2,339.0 127.6,334.6 128.1,330.2 128.6,325.9 129.0,321.9 129.5,318.2 130.0,314.8 130.4,312.0 130.9,309.8 131.4,308.3 131.9,307.5 132.3,307.6 132.8,308.7 133.3,310.6 133.7,313.4 134.2,317.0 134.7,321.4 135.2,326.4 135.6,331.9 136.1,337.8 136.6,343.9 137.0,350.1 137.5,356.2 138.0,362.2 138.4,367.9 138.9,373.3 139.4,378.3 139.9,382.8 140.3,386.9 140.8,390.5 141.3,393.6 141.7,396.3 142.2,398.7 142.7,400.6 143.1,402.2 143.6,403.5 144.1,404.6 144.6,405.5 145.0,406.1 145.5,406.7 146.0,407.1 146.4,407.4 146.9,407.7" fill="none" stroke="#24160c" stroke-width="1.4" stroke-linejoin="round" stroke-linecap="round"/>
<polyline points="71.7,405.9 72.2,405.8 72.6,405.8 73.1,405.7 73.6,405.7 74.0,405.6 74.5,405.4 75.0,405.3 75.5,405.1 75.9,404.9 76.4,404.7 76.9,404.4 77.3,404.1 77.8,403.8 78.3,403.4 78.8,402.9 79.2,402.4 79.7,401.8 80.2,401.1 80.6,400.4 81.1,399.6 81.6,398.8 82.0,397.9 82.5,396.9 83.0,395.9 83.5,394.8 83.9,393.6 84.4,392.5 84.9,391.2 85.3,390.0 85.8,388.7 86.3,387.4 86.7,386.2 87.2,384.9 87.7,383.6 88.2,382.4 88.6,381.2 89.1,380.1 89.6,379.0 90.0,377.9 90.5,376.9 91.0,375.9 91.4,375.0 91.9,374.2 92.4,373.4 92.8,372.7 93.3,372.1 93.8,371.5 94.3,371.1 94.7,370.7 95.2,370.4 95.7,370.2 96.1,370.1 96.6,370.1 97.1,370.2 97.6,370.5 98.0,370.8 98.5,371.2 99.0,371.7 99.4,372.4 99.9,373.1 100.4,373.9 100.8,374.9 101.3,375.8 101.8,376.9 102.2,378.0 102.7,379.2 103.2,380.4 103.7,381.7 104.1,383.0 104.6,384.2 105.1,385.5 105.5,386.8 106.0,388.1 106.5,389.4 107.0,390.6 107.4,391.8 107.9,393.0 108.4,394.1 108.8,395.1 109.3,396.1 109.8,397.1 110.2,398.0 110.7,398.8 111.2,399.5 111.7,400.2 112.1,400.7 112.6,401.2 113.1,401.6 113.5,401.9 114.0,402.1 114.5,402.2 114.9,402.2 115.4,402.0 115.9,401.7 116.3,401.2 116.8,400.6 117.3,399.8 117.8,398.9 118.2,397.7 118.7,396.4 119.2,394.9 119.6,393.1 120.1,391.2 120.6,389.0 121.1,386.6 121.5,384.0 122.0,381.3 122.5,378.3 122.9,375.1 123.4,371.7 123.9,368.1 124.3,364.4 124.8,360.5 125.3,356.4 125.8,352.2 126.2,347.9 126.7,343.5 127.2,339.0 127.6,334.6 128.1,330.2 128.6,325.9 129.0,321.9 129.5,318.2 130.0,314.8 130.4,312.0 130.9,309.8 131.4,308.3 131.9,307.5 132.3,307.6 132.8,308.7 133.3,310.6 133.7,313.4 134.2,317.0 134.7,321.4 135.2,326.4 135.6,331.9 136.1,337.8 136.6,343.9 137.0,350.1 137.5,356.2 138.0,362.2 138.4,367.9 138.9,373.3 139.4,378.3 139.9,382.8 140.3,386.9 140.8,390.5 141.3,393.6 141.7,396.3 142.2,398.7 142.7,400.6 143.1,402.2 143.6,403.5 144.1,404.6 144.6,405.5 145.0,406.1 145.5,406.7 146.0,407.1 146.4,407.4 146.9,407.7" fill="none" stroke="#c8742a" stroke-width="0.65" stroke-dasharray="1.2 0.9" stroke-linejoin="round"/>
<line x1="30.7" y1="418.4" x2="184.4" y2="418.4" stroke="#5a5a5a" stroke-width="1.05" />
<line x1="30.7" y1="417.8" x2="30.7" y2="419.9" stroke="#5a5a5a" stroke-width="0.7" />
<text x="30.7" y="427.1" font-size="7.2" fill="#111" text-anchor="middle" stroke="#111" stroke-width="0.14">108</text>
<line x1="52.7" y1="417.8" x2="52.7" y2="419.9" stroke="#5a5a5a" stroke-width="0.7" />
<text x="52.7" y="427.1" font-size="7.2" fill="#111" text-anchor="middle" stroke="#111" stroke-width="0.14">106</text>
<line x1="74.6" y1="417.8" x2="74.6" y2="419.9" stroke="#5a5a5a" stroke-width="0.7" />
<text x="74.6" y="427.1" font-size="7.2" fill="#111" text-anchor="middle" stroke="#111" stroke-width="0.14">104</text>
<line x1="96.6" y1="417.8" x2="96.6" y2="419.9" stroke="#5a5a5a" stroke-width="0.7" />
<text x="96.6" y="427.1" font-size="7.2" fill="#111" text-anchor="middle" stroke="#111" stroke-width="0.14">102</text>
<line x1="118.5" y1="417.8" x2="118.5" y2="419.9" stroke="#5a5a5a" stroke-width="0.7" />
<text x="118.5" y="427.1" font-size="7.2" fill="#111" text-anchor="middle" stroke="#111" stroke-width="0.14">100</text>
<line x1="140.5" y1="417.8" x2="140.5" y2="419.9" stroke="#5a5a5a" stroke-width="0.7" />
<text x="140.5" y="427.1" font-size="7.2" fill="#111" text-anchor="middle" stroke="#111" stroke-width="0.14">98</text>
<line x1="162.4" y1="417.8" x2="162.4" y2="419.9" stroke="#5a5a5a" stroke-width="0.7" />
<text x="162.4" y="427.1" font-size="7.2" fill="#111" text-anchor="middle" stroke="#111" stroke-width="0.14">96</text>
<line x1="184.4" y1="417.8" x2="184.4" y2="419.9" stroke="#5a5a5a" stroke-width="0.7" />
<text x="184.4" y="427.1" font-size="7.2" fill="#111" text-anchor="middle" stroke="#111" stroke-width="0.14">94</text>
<text x="67.5" y="442.9" font-size="8.4" fill="#111" textLength="74.7" lengthAdjust="spacingAndGlyphs" stroke="#111" stroke-width="0.14">Binding Energy (eV)</text>
<text x="31.3" y="331.8" font-size="8.7" fill="#141414" textLength="53.3" lengthAdjust="spacingAndGlyphs" stroke="#141414" stroke-width="0.16">101.9 eV Si-N</text>
<text x="20.9" y="372.8" font-size="8.7" fill="#141414" textLength="54.3" lengthAdjust="spacingAndGlyphs" stroke="#141414" stroke-width="0.16">102.8 eV Si-O</text>
<text x="74.6" y="376.2" font-size="6.2" fill="#141414">x</text>
<text x="124.2" y="276.8" font-size="8.7" fill="#141414" textLength="7.2" lengthAdjust="spacingAndGlyphs" stroke="#141414" stroke-width="0.16">Si</text>
<text x="131.5" y="273.6" font-size="4.8" fill="#141414" textLength="5.4" lengthAdjust="spacingAndGlyphs">3+</text>
<text x="139.7" y="276.8" font-size="8.7" fill="#141414" textLength="31.7" lengthAdjust="spacingAndGlyphs" stroke="#141414" stroke-width="0.16">101.3eV</text>
<text x="126.8" y="290.4" font-size="8.7" fill="#141414" textLength="16.2" lengthAdjust="spacingAndGlyphs" stroke="#141414" stroke-width="0.16">Si2p</text>
<text x="143.3" y="293.0" font-size="5.0" fill="#141414" textLength="7.0" lengthAdjust="spacingAndGlyphs">3/2</text>
<text x="153.2" y="290.4" font-size="8.7" fill="#141414" textLength="29.9" lengthAdjust="spacingAndGlyphs" stroke="#141414" stroke-width="0.16">98.8 eV</text>
<polyline points="264.8,350.5 275.4,350.5 275.7,419.6" fill="none" stroke="#808080" stroke-width="0.8" />
<polyline points="275.2,331.5 286.4,331.5 287.5,419.6" fill="none" stroke="#808080" stroke-width="0.8" />
<polyline points="308.8,288.5 293.7,288.5 295.4,419.6" fill="none" stroke="#808080" stroke-width="0.8" />
<polyline points="322.9,302.4 323.4,419.6" fill="none" stroke="#808080" stroke-width="0.8" />
<line x1="258.5" y1="408.3" x2="338.3" y2="412.2" stroke="#86b070" stroke-width="0.6" />
<polyline points="305.9,410.6 306.4,410.6 306.9,410.5 307.4,410.5 307.9,410.4 308.4,410.4 308.9,410.2 309.4,410.1 309.9,409.8 310.4,409.5 310.9,409.0 311.4,408.4 311.9,407.7 312.4,406.7 312.9,405.5 313.4,404.0 313.9,402.3 314.4,400.2 314.9,397.7 315.4,394.8 315.9,391.5 316.4,387.9 316.9,383.8 317.4,379.4 317.9,374.6 318.4,369.6 318.8,364.5 319.3,359.3 319.8,354.1 320.3,349.2 320.8,344.5 321.3,340.4 321.8,336.8 322.3,333.9 322.8,331.8 323.3,330.5 323.8,330.2 324.3,330.8 324.8,332.2 325.3,334.5 325.8,337.6 326.3,341.4 326.8,345.7 327.3,350.4 327.8,355.5 328.3,360.7 328.8,365.9 329.3,371.1 329.8,376.1 330.3,380.8 330.8,385.3 331.3,389.3 331.8,393.0 332.3,396.2 332.8,399.1 333.3,401.5 333.8,403.6 334.3,405.4 334.8,406.8 335.3,408.0 335.8,409.0 336.3,409.8 336.8,410.4 337.3,410.8 337.8,411.2 338.3,411.5" fill="none" stroke="#f5c431" stroke-width="0.8" stroke-dasharray="1.3 1"/>
<polyline points="299.9,410.3 300.4,410.3 300.9,410.2 301.4,410.2 301.9,410.2 302.4,410.1 302.9,410.0 303.4,409.8 303.9,409.5 304.4,409.2 304.9,408.8 305.4,408.2 305.9,407.5 306.4,406.6 306.9,405.6 307.4,404.3 307.9,402.7 308.4,400.9 308.9,398.9 309.4,396.5 309.9,393.9 310.4,391.1 310.9,388.0 311.4,384.8 311.9,381.6 312.4,378.2 312.9,375.0 313.4,371.9 313.9,369.1 314.4,366.6 314.9,364.5 315.4,362.9 315.9,361.9 316.4,361.5 316.9,361.7 317.4,362.5 317.9,363.8 318.4,365.7 318.8,368.0 319.3,370.7 319.8,373.8 320.3,377.0 320.8,380.3 321.3,383.7 321.8,387.0 322.3,390.2 322.8,393.1 323.3,395.9 323.8,398.4 324.3,400.7 324.8,402.7 325.3,404.4 325.8,405.9 326.3,407.1 326.8,408.1 327.3,408.9 327.8,409.6 328.3,410.2 328.8,410.6 329.3,410.9 329.8,411.2 330.3,411.4 330.8,411.5 331.3,411.6 331.8,411.7 332.3,411.8 332.8,411.9 333.3,411.9" fill="none" stroke="#5aa2dc" stroke-width="0.8" />
<polyline points="258.5,408.2 259.0,408.2 259.5,408.2 260.0,408.2 260.5,408.1 261.0,408.1 261.5,408.1 262.0,408.1 262.5,408.0 263.0,408.0 263.5,407.9 264.0,407.8 264.5,407.7 265.0,407.6 265.5,407.5 266.0,407.4 266.5,407.3 267.0,407.1 267.5,406.9 268.0,406.7 268.5,406.5 269.0,406.2 269.5,406.0 270.0,405.7 270.5,405.3 271.0,405.0 271.5,404.6 272.0,404.2 272.5,403.8 273.0,403.3 273.5,402.9 274.0,402.4 274.5,401.8 275.0,401.3 275.5,400.7 276.0,400.1 276.5,399.6 277.0,399.0 277.5,398.3 278.0,397.7 278.4,397.1 278.9,396.5 279.4,395.9 279.9,395.3 280.4,394.7 280.9,394.2 281.4,393.6 281.9,393.1 282.4,392.7 282.9,392.2 283.4,391.8 283.9,391.5 284.4,391.2 284.9,391.0 285.4,390.8 285.9,390.6 286.4,390.6 286.9,390.5 287.4,390.6 287.9,390.7 288.4,390.8 288.9,391.0 289.4,391.3 289.9,391.6 290.4,392.0 290.9,392.4 291.4,392.9 291.9,393.4 292.4,393.9 292.9,394.5 293.4,395.0 293.9,395.7 294.4,396.3 294.9,396.9 295.4,397.6 295.9,398.3 296.4,398.9 296.9,399.6 297.4,400.2 297.9,400.9 298.4,401.5 298.9,402.2 299.4,402.8 299.9,403.3 300.4,403.9 300.9,404.4 301.4,404.9 301.9,405.4 302.4,405.9 302.9,406.3 303.4,406.7 303.9,407.1 304.4,407.5 304.9,407.8 305.4,408.1 305.9,408.4 306.4,408.7 306.9,408.9 307.4,409.2 307.9,409.4 308.4,409.5 308.9,409.7 309.4,409.9 309.9,410.0 310.4,410.1 310.9,410.3 311.4,410.4 311.9,410.5 312.4,410.6 312.9,410.6 313.4,410.7 313.9,410.8 314.4,410.8 314.9,410.9 315.4,410.9 315.9,411.0 316.4,411.0 316.9,411.1 317.4,411.1 317.9,411.1 318.4,411.2" fill="none" stroke="#7fb2de" stroke-width="0.8" />
<polyline points="258.5,407.3 259.0,407.1 259.5,406.9 260.0,406.7 260.5,406.4 261.0,406.1 261.5,405.8 262.0,405.4 262.5,405.0 263.0,404.5 263.5,404.0 264.0,403.5 264.5,402.9 265.0,402.3 265.5,401.6 266.0,400.9 266.5,400.2 267.0,399.4 267.5,398.7 268.0,397.9 268.5,397.1 269.0,396.3 269.5,395.5 270.0,394.8 270.5,394.1 271.0,393.4 271.5,392.8 272.0,392.2 272.5,391.7 273.0,391.3 273.5,391.0 274.0,390.8 274.5,390.6 275.0,390.5 275.5,390.6 276.0,390.7 276.5,391.0 277.0,391.3 277.5,391.7 278.0,392.2 278.4,392.7 278.9,393.4 279.4,394.1 279.9,394.8 280.4,395.6 280.9,396.4 281.4,397.2 281.9,398.0 282.4,398.9 282.9,399.7 283.4,400.5 283.9,401.3 284.4,402.1 284.9,402.8 285.4,403.5 285.9,404.2 286.4,404.8 286.9,405.4 287.4,405.9 287.9,406.4 288.4,406.9 288.9,407.3 289.4,407.6 289.9,408.0 290.4,408.3 290.9,408.5 291.4,408.8 291.9,409.0 292.4,409.1 292.9,409.3 293.4,409.4 293.9,409.6 294.4,409.7 294.9,409.8 295.4,409.9 295.9,409.9 296.4,410.0 296.9,410.0 297.4,410.1 297.9,410.1 298.4,410.2 298.9,410.2" fill="none" stroke="#a9d18e" stroke-width="0.8" />
<polyline points="294.9,410.0 295.4,410.0 295.9,410.0 296.4,410.0 296.9,410.0 297.4,409.9 297.9,409.9 298.4,409.8 298.9,409.7 299.4,409.6 299.9,409.4 300.4,409.3 300.9,409.1 301.4,408.9 301.9,408.7 302.4,408.5 302.9,408.3 303.4,408.1 303.9,407.9 304.4,407.7 304.9,407.6 305.4,407.5 305.9,407.4 306.4,407.4 306.9,407.5 307.4,407.6 307.9,407.7 308.4,407.9 308.9,408.1 309.4,408.3 309.9,408.6 310.4,408.9 310.9,409.1 311.4,409.4 311.9,409.6 312.4,409.9 312.9,410.1 313.4,410.3 313.9,410.4 314.4,410.6 314.9,410.7 315.4,410.8 315.9,410.9 316.4,411.0 316.9,411.0 317.4,411.1 317.9,411.1 318.4,411.2" fill="none" stroke="#2f55a4" stroke-width="0.8" stroke-dasharray="1.3 1"/>
<polyline points="258.5,407.1 259.0,406.9 259.5,406.7 260.0,406.5 260.5,406.2 261.0,405.8 261.5,405.4 262.0,405.0 262.5,404.5 263.0,404.0 263.5,403.4 264.0,402.8 264.5,402.1 265.0,401.3 265.5,400.5 266.0,399.7 266.5,398.8 267.0,397.8 267.5,396.8 268.0,395.8 268.5,394.8 269.0,393.7 269.5,392.7 270.0,391.6 270.5,390.5 271.0,389.5 271.5,388.5 272.0,387.5 272.5,386.5 273.0,385.7 273.5,384.8 274.0,384.1 274.5,383.4 275.0,382.7 275.5,382.2 276.0,381.7 276.5,381.3 277.0,381.0 277.5,380.8 278.0,380.7 278.4,380.6 278.9,380.6 279.4,380.6 279.9,380.8 280.4,380.9 280.9,381.2 281.4,381.4 281.9,381.7 282.4,382.1 282.9,382.4 283.4,382.9 283.9,383.3 284.4,383.7 284.9,384.2 285.4,384.7 285.9,385.2 286.4,385.7 286.9,386.2 287.4,386.8 287.9,387.3 288.4,387.9 288.9,388.5 289.4,389.1 289.9,389.7 290.4,390.4 290.9,391.0 291.4,391.7 291.9,392.4 292.4,393.1 292.9,393.8 293.4,394.5 293.9,395.2 294.4,395.9 294.9,396.6 295.4,397.3 295.9,398.0 296.4,398.6 296.9,399.3 297.4,399.9 297.9,400.5 298.4,401.0 298.9,401.5 299.4,402.0 299.9,402.4 300.4,402.7 300.9,403.0 301.4,403.3 301.9,403.4 302.4,403.6 302.9,403.6 303.4,403.6 303.9,403.5 304.4,403.3 304.9,403.0 305.4,402.6 305.9,402.1 306.4,401.4 306.9,400.5 307.4,399.4 307.9,398.1 308.4,396.5 308.9,394.6 309.4,392.4 309.9,389.9 310.4,387.0 310.9,383.8 311.4,380.3 311.9,376.6 312.4,372.5 312.9,368.3 313.4,364.0 313.9,359.5 314.4,355.1 314.9,350.6 315.4,346.3 315.9,342.0 316.4,338.0 316.9,334.1 317.4,330.5 317.9,327.1 318.4,324.0 318.8,321.2 319.3,318.7 319.8,316.6 320.3,314.8 320.8,313.5 321.3,312.7 321.8,312.4 322.3,312.6 322.8,313.5 323.3,315.0 323.8,317.1 324.3,319.9 324.8,323.4 325.3,327.4 325.8,331.9 326.3,336.8 326.8,342.1 327.3,347.7 327.8,353.4 328.3,359.1 328.8,364.8 329.3,370.3 329.8,375.5 330.3,380.4 330.8,385.0 331.3,389.1 331.8,392.8 332.3,396.1 332.8,399.0 333.3,401.5 333.8,403.6 334.3,405.3 334.8,406.8 335.3,408.0 335.8,409.0 336.3,409.8 336.8,410.4 337.3,410.8 337.8,411.2 338.3,411.5" fill="none" stroke="#24160c" stroke-width="1.4" stroke-linejoin="round" stroke-linecap="round"/>
<polyline points="258.5,407.1 259.0,406.9 259.5,406.7 260.0,406.5 260.5,406.2 261.0,405.8 261.5,405.4 262.0,405.0 262.5,404.5 263.0,404.0 263.5,403.4 264.0,402.8 264.5,402.1 265.0,401.3 265.5,400.5 266.0,399.7 266.5,398.8 267.0,397.8 267.5,396.8 268.0,395.8 268.5,394.8 269.0,393.7 269.5,392.7 270.0,391.6 270.5,390.5 271.0,389.5 271.5,388.5 272.0,387.5 272.5,386.5 273.0,385.7 273.5,384.8 274.0,384.1 274.5,383.4 275.0,382.7 275.5,382.2 276.0,381.7 276.5,381.3 277.0,381.0 277.5,380.8 278.0,380.7 278.4,380.6 278.9,380.6 279.4,380.6 279.9,380.8 280.4,380.9 280.9,381.2 281.4,381.4 281.9,381.7 282.4,382.1 282.9,382.4 283.4,382.9 283.9,383.3 284.4,383.7 284.9,384.2 285.4,384.7 285.9,385.2 286.4,385.7 286.9,386.2 287.4,386.8 287.9,387.3 288.4,387.9 288.9,388.5 289.4,389.1 289.9,389.7 290.4,390.4 290.9,391.0 291.4,391.7 291.9,392.4 292.4,393.1 292.9,393.8 293.4,394.5 293.9,395.2 294.4,395.9 294.9,396.6 295.4,397.3 295.9,398.0 296.4,398.6 296.9,399.3 297.4,399.9 297.9,400.5 298.4,401.0 298.9,401.5 299.4,402.0 299.9,402.4 300.4,402.7 300.9,403.0 301.4,403.3 301.9,403.4 302.4,403.6 302.9,403.6 303.4,403.6 303.9,403.5 304.4,403.3 304.9,403.0 305.4,402.6 305.9,402.1 306.4,401.4 306.9,400.5 307.4,399.4 307.9,398.1 308.4,396.5 308.9,394.6 309.4,392.4 309.9,389.9 310.4,387.0 310.9,383.8 311.4,380.3 311.9,376.6 312.4,372.5 312.9,368.3 313.4,364.0 313.9,359.5 314.4,355.1 314.9,350.6 315.4,346.3 315.9,342.0 316.4,338.0 316.9,334.1 317.4,330.5 317.9,327.1 318.4,324.0 318.8,321.2 319.3,318.7 319.8,316.6 320.3,314.8 320.8,313.5 321.3,312.7 321.8,312.4 322.3,312.6 322.8,313.5 323.3,315.0 323.8,317.1 324.3,319.9 324.8,323.4 325.3,327.4 325.8,331.9 326.3,336.8 326.8,342.1 327.3,347.7 327.8,353.4 328.3,359.1 328.8,364.8 329.3,370.3 329.8,375.5 330.3,380.4 330.8,385.0 331.3,389.1 331.8,392.8 332.3,396.1 332.8,399.0 333.3,401.5 333.8,403.6 334.3,405.3 334.8,406.8 335.3,408.0 335.8,409.0 336.3,409.8 336.8,410.4 337.3,410.8 337.8,411.2 338.3,411.5" fill="none" stroke="#c8742a" stroke-width="0.65" stroke-dasharray="1.2 0.9" stroke-linejoin="round"/>
<line x1="223.0" y1="419.6" x2="377.2" y2="419.6" stroke="#5a5a5a" stroke-width="1.05" />
<line x1="223.0" y1="419.0" x2="223.0" y2="421.1" stroke="#5a5a5a" stroke-width="0.7" />
<text x="223.0" y="429.9" font-size="7.2" fill="#111" text-anchor="middle" stroke="#111" stroke-width="0.14">108</text>
<line x1="245.0" y1="419.0" x2="245.0" y2="421.1" stroke="#5a5a5a" stroke-width="0.7" />
<text x="245.0" y="429.9" font-size="7.2" fill="#111" text-anchor="middle" stroke="#111" stroke-width="0.14">106</text>
<line x1="267.1" y1="419.0" x2="267.1" y2="421.1" stroke="#5a5a5a" stroke-width="0.7" />
<text x="267.1" y="429.9" font-size="7.2" fill="#111" text-anchor="middle" stroke="#111" stroke-width="0.14">104</text>
<line x1="289.1" y1="419.0" x2="289.1" y2="421.1" stroke="#5a5a5a" stroke-width="0.7" />
<text x="289.1" y="429.9" font-size="7.2" fill="#111" text-anchor="middle" stroke="#111" stroke-width="0.14">102</text>
<line x1="311.1" y1="419.0" x2="311.1" y2="421.1" stroke="#5a5a5a" stroke-width="0.7" />
<text x="311.1" y="429.9" font-size="7.2" fill="#111" text-anchor="middle" stroke="#111" stroke-width="0.14">100</text>
<line x1="333.1" y1="419.0" x2="333.1" y2="421.1" stroke="#5a5a5a" stroke-width="0.7" />
<text x="333.1" y="429.9" font-size="7.2" fill="#111" text-anchor="middle" stroke="#111" stroke-width="0.14">98</text>
<line x1="355.2" y1="419.0" x2="355.2" y2="421.1" stroke="#5a5a5a" stroke-width="0.7" />
<text x="355.2" y="429.9" font-size="7.2" fill="#111" text-anchor="middle" stroke="#111" stroke-width="0.14">96</text>
<line x1="377.2" y1="419.0" x2="377.2" y2="421.1" stroke="#5a5a5a" stroke-width="0.7" />
<text x="377.2" y="429.9" font-size="7.2" fill="#111" text-anchor="middle" stroke="#111" stroke-width="0.14">94</text>
<text x="261.1" y="443.4" font-size="8.4" fill="#111" textLength="75.2" lengthAdjust="spacingAndGlyphs" stroke="#111" stroke-width="0.14">Binding Energy (eV)</text>
<text x="218.3" y="334.4" font-size="8.7" fill="#141414" textLength="53.2" lengthAdjust="spacingAndGlyphs" stroke="#141414" stroke-width="0.16">102.1 eV Si-N</text>
<text x="204.1" y="354.6" font-size="8.7" fill="#141414" textLength="55.1" lengthAdjust="spacingAndGlyphs" stroke="#141414" stroke-width="0.16">103.1 eV Si-O</text>
<text x="258.6" y="358.0" font-size="6.2" fill="#141414">x</text>
<text x="313.7" y="289.8" font-size="8.7" fill="#141414" textLength="7.2" lengthAdjust="spacingAndGlyphs" stroke="#141414" stroke-width="0.16">Si</text>
<text x="321.0" y="286.6" font-size="4.8" fill="#141414" textLength="5.4" lengthAdjust="spacingAndGlyphs">3+</text>
<text x="329.2" y="289.8" font-size="8.7" fill="#141414" textLength="31.7" lengthAdjust="spacingAndGlyphs" stroke="#141414" stroke-width="0.16">101.4eV</text>
<text x="316.8" y="301.5" font-size="8.7" fill="#141414" textLength="16.2" lengthAdjust="spacingAndGlyphs" stroke="#141414" stroke-width="0.16">Si2p</text>
<text x="333.3" y="304.1" font-size="5.0" fill="#141414" textLength="7.0" lengthAdjust="spacingAndGlyphs">3/2</text>
<text x="343.2" y="301.5" font-size="8.7" fill="#141414" textLength="28.1" lengthAdjust="spacingAndGlyphs" stroke="#141414" stroke-width="0.16">98.9eV</text>
<polyline points="444.6,348.5 455.4,348.5 455.8,418.5" fill="none" stroke="#808080" stroke-width="0.8" />
<polyline points="455.0,322.5 465.6,322.5 466.3,418.5" fill="none" stroke="#808080" stroke-width="0.8" />
<polyline points="486.3,290.5 471.8,290.5 472.3,418.5" fill="none" stroke="#808080" stroke-width="0.8" />
<polyline points="499.6,310.6 500.5,418.5" fill="none" stroke="#808080" stroke-width="0.8" />
<line x1="437.5" y1="403.1" x2="513.5" y2="407.2" stroke="#86b070" stroke-width="0.6" />
<polyline points="483.1,405.5 483.6,405.5 484.1,405.5 484.5,405.5 485.0,405.4 485.5,405.3 485.9,405.2 486.4,405.1 486.9,404.9 487.4,404.6 487.9,404.2 488.3,403.7 488.8,403.1 489.3,402.3 489.8,401.3 490.2,400.1 490.7,398.7 491.2,397.0 491.6,395.0 492.1,392.7 492.6,390.0 493.1,387.1 493.6,383.9 494.0,380.3 494.5,376.6 495.0,372.6 495.4,368.5 495.9,364.3 496.4,360.2 496.9,356.2 497.4,352.5 497.8,349.0 498.3,346.0 498.8,343.5 499.2,341.6 499.7,340.4 500.2,339.8 500.7,340.0 501.1,340.8 501.6,342.4 502.1,344.6 502.6,347.3 503.1,350.5 503.5,354.2 504.0,358.1 504.5,362.2 504.9,366.4 505.4,370.6 505.9,374.7 506.4,378.6 506.9,382.4 507.3,385.8 507.8,389.0 508.3,391.9 508.8,394.4 509.2,396.7 509.7,398.6 510.2,400.3 510.6,401.7 511.1,402.8 511.6,403.8 512.1,404.6 512.5,405.2 513.0,405.7 513.5,406.1" fill="none" stroke="#f5c431" stroke-width="0.8" stroke-dasharray="1.3 1"/>
<polyline points="475.0,405.1 475.5,405.1 476.0,405.1 476.4,405.1 476.9,405.0 477.4,405.0 477.9,404.9 478.4,404.8 478.8,404.7 479.3,404.5 479.8,404.3 480.2,404.0 480.7,403.6 481.2,403.2 481.7,402.6 482.1,401.9 482.6,401.1 483.1,400.2 483.6,399.1 484.1,397.8 484.5,396.3 485.0,394.7 485.5,392.9 485.9,390.9 486.4,388.7 486.9,386.4 487.4,384.0 487.9,381.5 488.3,379.0 488.8,376.4 489.3,373.9 489.8,371.5 490.2,369.2 490.7,367.1 491.2,365.3 491.6,363.8 492.1,362.6 492.6,361.8 493.1,361.3 493.6,361.3 494.0,361.7 494.5,362.5 495.0,363.6 495.4,365.1 495.9,366.9 496.4,369.0 496.9,371.3 497.4,373.7 497.8,376.3 498.3,378.9 498.8,381.5 499.2,384.0 499.7,386.5 500.2,388.9 500.7,391.2 501.1,393.2 501.6,395.1 502.1,396.9 502.6,398.4 503.1,399.8 503.5,401.0 504.0,402.1 504.5,402.9 504.9,403.7 505.4,404.3 505.9,404.9 506.4,405.3 506.9,405.7 507.3,406.0 507.8,406.2 508.3,406.4 508.8,406.6 509.2,406.7 509.7,406.8 510.2,406.9 510.6,406.9 511.1,407.0 511.6,407.0" fill="none" stroke="#5aa2dc" stroke-width="0.8" stroke-dasharray="1.3 1"/>
<polyline points="440.8,403.2 441.3,403.2 441.8,403.3 442.2,403.3 442.7,403.3 443.2,403.3 443.7,403.2 444.1,403.2 444.6,403.2 445.1,403.1 445.6,403.1 446.1,403.0 446.5,402.9 447.0,402.8 447.5,402.6 447.9,402.4 448.4,402.2 448.9,402.0 449.4,401.7 449.9,401.3 450.3,400.9 450.8,400.5 451.3,400.0 451.8,399.4 452.2,398.7 452.7,398.0 453.2,397.2 453.6,396.3 454.1,395.3 454.6,394.2 455.1,393.1 455.6,391.9 456.0,390.5 456.5,389.2 457.0,387.7 457.4,386.2 457.9,384.6 458.4,383.0 458.9,381.4 459.4,379.7 459.8,378.1 460.3,376.5 460.8,374.9 461.2,373.3 461.7,371.9 462.2,370.5 462.7,369.2 463.1,368.1 463.6,367.1 464.1,366.2 464.6,365.5 465.1,365.0 465.5,364.7 466.0,364.5 466.5,364.6 466.9,364.8 467.4,365.2 467.9,365.8 468.4,366.6 468.9,367.6 469.3,368.6 469.8,369.9 470.3,371.2 470.8,372.7 471.2,374.2 471.7,375.8 472.2,377.4 472.6,379.1 473.1,380.8 473.6,382.5 474.1,384.2 474.6,385.8 475.0,387.5 475.5,389.0 476.0,390.5 476.4,391.9 476.9,393.3 477.4,394.5 477.9,395.7 478.4,396.8 478.8,397.8 479.3,398.8 479.8,399.6 480.2,400.4 480.7,401.1 481.2,401.7 481.7,402.3 482.1,402.7 482.6,403.2 483.1,403.6 483.6,403.9 484.1,404.2 484.5,404.5 485.0,404.7 485.5,404.9 485.9,405.0 486.4,405.2 486.9,405.3 487.4,405.4 487.9,405.5 488.3,405.6 488.8,405.7 489.3,405.7 489.8,405.8 490.2,405.9 490.7,405.9 491.2,405.9 491.6,406.0" fill="none" stroke="#68b84a" stroke-width="0.8" stroke-dasharray="1.3 1"/>
<polyline points="437.5,401.8 438.0,401.6 438.4,401.3 438.9,401.0 439.4,400.7 439.9,400.3 440.4,399.8 440.8,399.3 441.3,398.7 441.8,398.1 442.2,397.3 442.7,396.6 443.2,395.7 443.7,394.8 444.1,393.8 444.6,392.7 445.1,391.6 445.6,390.4 446.1,389.2 446.5,387.9 447.0,386.6 447.5,385.2 447.9,383.9 448.4,382.5 448.9,381.2 449.4,379.9 449.9,378.7 450.3,377.5 450.8,376.4 451.3,375.3 451.8,374.4 452.2,373.6 452.7,373.0 453.2,372.5 453.6,372.1 454.1,371.9 454.6,371.8 455.1,371.9 455.6,372.2 456.0,372.6 456.5,373.1 457.0,373.8 457.4,374.7 457.9,375.6 458.4,376.7 458.9,377.8 459.4,379.1 459.8,380.4 460.3,381.7 460.8,383.1 461.2,384.5 461.7,385.9 462.2,387.3 462.7,388.6 463.1,390.0 463.6,391.3 464.1,392.5 464.6,393.7 465.1,394.8 465.5,395.9 466.0,396.9 466.5,397.8 466.9,398.6 467.4,399.4 467.9,400.1 468.4,400.7 468.9,401.3 469.3,401.8 469.8,402.3 470.3,402.7 470.8,403.0 471.2,403.4 471.7,403.6 472.2,403.9 472.6,404.1 473.1,404.3 473.6,404.4 474.1,404.6 474.6,404.7 475.0,404.8 475.5,404.9 476.0,405.0 476.4,405.0 476.9,405.1 477.4,405.1 477.9,405.2 478.4,405.2 478.8,405.3 479.3,405.3" fill="none" stroke="#2f55a4" stroke-width="0.8" stroke-dasharray="1.3 1"/>
<polyline points="470.8,404.8 471.2,404.8 471.7,404.8 472.2,404.8 472.6,404.8 473.1,404.8 473.6,404.7 474.1,404.7 474.6,404.6 475.0,404.5 475.5,404.4 476.0,404.2 476.4,404.1 476.9,403.9 477.4,403.7 477.9,403.5 478.4,403.3 478.8,403.1 479.3,402.9 479.8,402.7 480.2,402.6 480.7,402.4 481.2,402.4 481.7,402.3 482.1,402.3 482.6,402.4 483.1,402.4 483.6,402.6 484.1,402.7 484.5,402.9 485.0,403.2 485.5,403.4 485.9,403.6 486.4,403.9 486.9,404.2 487.4,404.4 487.9,404.6 488.3,404.8 488.8,405.0 489.3,405.2 489.8,405.4 490.2,405.5 490.7,405.6 491.2,405.7 491.6,405.8 492.1,405.9 492.6,406.0 493.1,406.0 493.6,406.1 494.0,406.1" fill="none" stroke="#5aa2dc" stroke-width="0.8" stroke-dasharray="1.3 1"/>
<polyline points="437.5,401.8 438.0,401.6 438.4,401.3 438.9,401.0 439.4,400.6 439.9,400.2 440.4,399.8 440.8,399.2 441.3,398.6 441.8,398.0 442.2,397.2 442.7,396.4 443.2,395.6 443.7,394.6 444.1,393.5 444.6,392.4 445.1,391.2 445.6,389.9 446.1,388.6 446.5,387.2 447.0,385.7 447.5,384.2 447.9,382.7 448.4,381.1 448.9,379.5 449.4,377.9 449.9,376.2 450.3,374.6 450.8,373.0 451.3,371.5 451.8,369.9 452.2,368.5 452.7,367.0 453.2,365.7 453.6,364.4 454.1,363.2 454.6,362.0 455.1,360.9 455.6,359.9 456.0,359.0 456.5,358.2 457.0,357.4 457.4,356.7 457.9,356.0 458.4,355.5 458.9,355.0 459.4,354.5 459.8,354.2 460.3,353.9 460.8,353.6 461.2,353.4 461.7,353.4 462.2,353.3 462.7,353.4 463.1,353.6 463.6,353.8 464.1,354.2 464.6,354.7 465.1,355.3 465.5,356.0 466.0,356.8 466.5,357.7 466.9,358.7 467.4,359.9 467.9,361.2 468.4,362.6 468.9,364.0 469.3,365.6 469.8,367.3 470.3,369.0 470.8,370.7 471.2,372.5 471.7,374.4 472.2,376.2 472.6,378.0 473.1,379.8 473.6,381.6 474.1,383.3 474.6,384.9 475.0,386.4 475.5,387.9 476.0,389.2 476.4,390.5 476.9,391.6 477.4,392.6 477.9,393.5 478.4,394.2 478.8,394.9 479.3,395.4 479.8,395.8 480.2,396.1 480.7,396.2 481.2,396.3 481.7,396.2 482.1,395.9 482.6,395.5 483.1,395.0 483.6,394.3 484.1,393.4 484.5,392.3 485.0,390.9 485.5,389.4 485.9,387.7 486.4,385.7 486.9,383.5 487.4,381.0 487.9,378.4 488.3,375.6 488.8,372.6 489.3,369.4 489.8,366.2 490.2,362.8 490.7,359.4 491.2,355.9 491.6,352.5 492.1,349.0 492.6,345.6 493.1,342.3 493.6,339.0 494.0,335.8 494.5,332.8 495.0,330.0 495.4,327.4 495.9,325.0 496.4,322.9 496.9,321.2 497.4,319.8 497.8,318.9 498.3,318.5 498.8,318.6 499.2,319.2 499.7,320.5 500.2,322.3 500.7,324.6 501.1,327.6 501.6,331.0 502.1,334.9 502.6,339.1 503.1,343.7 503.5,348.5 504.0,353.4 504.5,358.4 504.9,363.3 505.4,368.2 505.9,372.8 506.4,377.1 506.9,381.2 507.3,384.9 507.8,388.3 508.3,391.4 508.8,394.1 509.2,396.4 509.7,398.4 510.2,400.1 510.6,401.6 511.1,402.8 511.6,403.7 512.1,404.5 512.5,405.2 513.0,405.7 513.5,406.1" fill="none" stroke="#24160c" stroke-width="1.4" stroke-linejoin="round" stroke-linecap="round"/>
<polyline points="437.5,401.8 438.0,401.6 438.4,401.3 438.9,401.0 439.4,400.6 439.9,400.2 440.4,399.8 440.8,399.2 441.3,398.6 441.8,398.0 442.2,397.2 442.7,396.4 443.2,395.6 443.7,394.6 444.1,393.5 444.6,392.4 445.1,391.2 445.6,389.9 446.1,388.6 446.5,387.2 447.0,385.7 447.5,384.2 447.9,382.7 448.4,381.1 448.9,379.5 449.4,377.9 449.9,376.2 450.3,374.6 450.8,373.0 451.3,371.5 451.8,369.9 452.2,368.5 452.7,367.0 453.2,365.7 453.6,364.4 454.1,363.2 454.6,362.0 455.1,360.9 455.6,359.9 456.0,359.0 456.5,358.2 457.0,357.4 457.4,356.7 457.9,356.0 458.4,355.5 458.9,355.0 459.4,354.5 459.8,354.2 460.3,353.9 460.8,353.6 461.2,353.4 461.7,353.4 462.2,353.3 462.7,353.4 463.1,353.6 463.6,353.8 464.1,354.2 464.6,354.7 465.1,355.3 465.5,356.0 466.0,356.8 466.5,357.7 466.9,358.7 467.4,359.9 467.9,361.2 468.4,362.6 468.9,364.0 469.3,365.6 469.8,367.3 470.3,369.0 470.8,370.7 471.2,372.5 471.7,374.4 472.2,376.2 472.6,378.0 473.1,379.8 473.6,381.6 474.1,383.3 474.6,384.9 475.0,386.4 475.5,387.9 476.0,389.2 476.4,390.5 476.9,391.6 477.4,392.6 477.9,393.5 478.4,394.2 478.8,394.9 479.3,395.4 479.8,395.8 480.2,396.1 480.7,396.2 481.2,396.3 481.7,396.2 482.1,395.9 482.6,395.5 483.1,395.0 483.6,394.3 484.1,393.4 484.5,392.3 485.0,390.9 485.5,389.4 485.9,387.7 486.4,385.7 486.9,383.5 487.4,381.0 487.9,378.4 488.3,375.6 488.8,372.6 489.3,369.4 489.8,366.2 490.2,362.8 490.7,359.4 491.2,355.9 491.6,352.5 492.1,349.0 492.6,345.6 493.1,342.3 493.6,339.0 494.0,335.8 494.5,332.8 495.0,330.0 495.4,327.4 495.9,325.0 496.4,322.9 496.9,321.2 497.4,319.8 497.8,318.9 498.3,318.5 498.8,318.6 499.2,319.2 499.7,320.5 500.2,322.3 500.7,324.6 501.1,327.6 501.6,331.0 502.1,334.9 502.6,339.1 503.1,343.7 503.5,348.5 504.0,353.4 504.5,358.4 504.9,363.3 505.4,368.2 505.9,372.8 506.4,377.1 506.9,381.2 507.3,384.9 507.8,388.3 508.3,391.4 508.8,394.1 509.2,396.4 509.7,398.4 510.2,400.1 510.6,401.6 511.1,402.8 511.6,403.7 512.1,404.5 512.5,405.2 513.0,405.7 513.5,406.1" fill="none" stroke="#c8742a" stroke-width="0.65" stroke-dasharray="1.2 0.9" stroke-linejoin="round"/>
<line x1="398.7" y1="418.5" x2="552.9" y2="418.5" stroke="#5a5a5a" stroke-width="1.05" />
<line x1="398.7" y1="417.9" x2="398.7" y2="420.0" stroke="#5a5a5a" stroke-width="0.7" />
<text x="398.7" y="427.5" font-size="7.2" fill="#111" text-anchor="middle" stroke="#111" stroke-width="0.14">108</text>
<line x1="420.7" y1="417.9" x2="420.7" y2="420.0" stroke="#5a5a5a" stroke-width="0.7" />
<text x="420.7" y="427.5" font-size="7.2" fill="#111" text-anchor="middle" stroke="#111" stroke-width="0.14">106</text>
<line x1="442.8" y1="417.9" x2="442.8" y2="420.0" stroke="#5a5a5a" stroke-width="0.7" />
<text x="442.8" y="427.5" font-size="7.2" fill="#111" text-anchor="middle" stroke="#111" stroke-width="0.14">104</text>
<line x1="464.8" y1="417.9" x2="464.8" y2="420.0" stroke="#5a5a5a" stroke-width="0.7" />
<text x="464.8" y="427.5" font-size="7.2" fill="#111" text-anchor="middle" stroke="#111" stroke-width="0.14">102</text>
<line x1="486.8" y1="417.9" x2="486.8" y2="420.0" stroke="#5a5a5a" stroke-width="0.7" />
<text x="486.8" y="427.5" font-size="7.2" fill="#111" text-anchor="middle" stroke="#111" stroke-width="0.14">100</text>
<line x1="508.8" y1="417.9" x2="508.8" y2="420.0" stroke="#5a5a5a" stroke-width="0.7" />
<text x="508.8" y="427.5" font-size="7.2" fill="#111" text-anchor="middle" stroke="#111" stroke-width="0.14">98</text>
<line x1="530.9" y1="417.9" x2="530.9" y2="420.0" stroke="#5a5a5a" stroke-width="0.7" />
<text x="530.9" y="427.5" font-size="7.2" fill="#111" text-anchor="middle" stroke="#111" stroke-width="0.14">96</text>
<line x1="552.9" y1="417.9" x2="552.9" y2="420.0" stroke="#5a5a5a" stroke-width="0.7" />
<text x="552.9" y="427.5" font-size="7.2" fill="#111" text-anchor="middle" stroke="#111" stroke-width="0.14">94</text>
<text x="438.3" y="441.3" font-size="8.4" fill="#111" textLength="74.7" lengthAdjust="spacingAndGlyphs" stroke="#111" stroke-width="0.14">Binding Energy (eV)</text>
<text x="399.4" y="325.6" font-size="8.7" fill="#141414" textLength="50.6" lengthAdjust="spacingAndGlyphs" stroke="#141414" stroke-width="0.16">101.8eV Si-N</text>
<text x="383.9" y="352.5" font-size="8.7" fill="#141414" textLength="54.8" lengthAdjust="spacingAndGlyphs" stroke="#141414" stroke-width="0.16">102.8 eV Si-O</text>
<text x="438.1" y="355.9" font-size="6.2" fill="#141414">x</text>
<text x="489.4" y="293.7" font-size="8.7" fill="#141414" textLength="7.2" lengthAdjust="spacingAndGlyphs" stroke="#141414" stroke-width="0.16">Si</text>
<text x="496.7" y="290.5" font-size="4.8" fill="#141414" textLength="5.4" lengthAdjust="spacingAndGlyphs">3+</text>
<text x="504.9" y="293.7" font-size="8.7" fill="#141414" textLength="34.0" lengthAdjust="spacingAndGlyphs" stroke="#141414" stroke-width="0.16">101.3 eV</text>
<text x="494.0" y="308.0" font-size="8.7" fill="#141414" textLength="16.2" lengthAdjust="spacingAndGlyphs" stroke="#141414" stroke-width="0.16">Si2p</text>
<text x="510.5" y="310.6" font-size="5.0" fill="#141414" textLength="7.0" lengthAdjust="spacingAndGlyphs">3/2</text>
<text x="520.4" y="308.0" font-size="8.7" fill="#141414" textLength="29.9" lengthAdjust="spacingAndGlyphs" stroke="#141414" stroke-width="0.16">98.8 eV</text>
<polyline points="632.4,346.5 642.7,346.5 643.5,417.4" fill="none" stroke="#808080" stroke-width="0.8" />
<polyline points="643.3,321.5 653.7,321.5 655.2,417.4" fill="none" stroke="#808080" stroke-width="0.8" />
<polyline points="674.4,290.5 659.4,290.5 660.4,417.4" fill="none" stroke="#808080" stroke-width="0.8" />
<polyline points="685.8,310.3 686.9,417.4" fill="none" stroke="#808080" stroke-width="0.8" />
<line x1="625.5" y1="403.1" x2="701.7" y2="407.2" stroke="#86b070" stroke-width="0.6" />
<polyline points="668.8,405.4 669.3,405.4 669.8,405.4 670.3,405.4 670.7,405.3 671.2,405.3 671.7,405.2 672.2,405.1 672.6,404.9 673.1,404.7 673.6,404.5 674.1,404.1 674.6,403.6 675.0,403.0 675.5,402.3 676.0,401.4 676.5,400.4 676.9,399.1 677.4,397.5 677.9,395.8 678.4,393.7 678.8,391.4 679.3,388.8 679.8,385.9 680.3,382.8 680.7,379.4 681.2,375.8 681.7,372.0 682.2,368.1 682.7,364.2 683.1,360.4 683.6,356.6 684.1,353.1 684.6,349.9 685.0,347.0 685.5,344.6 686.0,342.7 686.5,341.4 686.9,340.7 687.4,340.6 687.9,341.2 688.4,342.3 688.8,344.1 689.3,346.4 689.8,349.2 690.3,352.4 690.7,355.9 691.2,359.6 691.7,363.5 692.2,367.4 692.7,371.4 693.1,375.2 693.6,378.9 694.1,382.5 694.6,385.7 695.0,388.8 695.5,391.5 696.0,394.0 696.5,396.1 696.9,398.1 697.4,399.7 697.9,401.1 698.4,402.3 698.8,403.3 699.3,404.1 699.8,404.8 700.3,405.4 700.7,405.8 701.2,406.2 701.7,406.4" fill="none" stroke="#f5c431" stroke-width="0.8" stroke-dasharray="1.3 1"/>
<polyline points="661.7,405.0 662.2,405.0 662.6,405.0 663.1,405.0 663.6,405.0 664.1,404.9 664.6,404.9 665.0,404.8 665.5,404.7 666.0,404.6 666.5,404.4 666.9,404.2 667.4,403.9 667.9,403.5 668.4,403.0 668.8,402.5 669.3,401.8 669.8,401.1 670.3,400.1 670.7,399.1 671.2,397.9 671.7,396.5 672.2,395.0 672.6,393.4 673.1,391.6 673.6,389.6 674.1,387.6 674.6,385.4 675.0,383.2 675.5,380.9 676.0,378.6 676.5,376.4 676.9,374.2 677.4,372.2 677.9,370.4 678.4,368.7 678.8,367.4 679.3,366.3 679.8,365.5 680.3,365.1 680.7,365.0 681.2,365.2 681.7,365.8 682.2,366.8 682.7,368.0 683.1,369.6 683.6,371.3 684.1,373.3 684.6,375.4 685.0,377.6 685.5,379.9 686.0,382.3 686.5,384.6 686.9,386.8 687.4,389.0 687.9,391.1 688.4,393.1 688.8,394.9 689.3,396.5 689.8,398.0 690.3,399.4 690.7,400.6 691.2,401.6 691.7,402.5 692.2,403.3 692.7,404.0 693.1,404.5 693.6,405.0 694.1,405.4 694.6,405.7 695.0,406.0 695.5,406.2 696.0,406.4 696.5,406.5 696.9,406.7 697.4,406.8 697.9,406.8 698.4,406.9 698.8,407.0 699.3,407.0 699.8,407.1" fill="none" stroke="#5aa2dc" stroke-width="0.8" stroke-dasharray="1.3 1"/>
<polyline points="626.0,403.1 626.5,403.1 626.9,403.1 627.4,403.1 627.9,403.1 628.4,403.1 628.8,403.1 629.3,403.1 629.8,403.1 630.3,403.0 630.7,403.0 631.2,402.9 631.7,402.8 632.2,402.7 632.6,402.6 633.1,402.5 633.6,402.3 634.1,402.1 634.5,401.9 635.0,401.6 635.5,401.3 636.0,401.0 636.5,400.5 636.9,400.1 637.4,399.6 637.9,399.0 638.4,398.3 638.8,397.6 639.3,396.8 639.8,395.9 640.3,394.9 640.7,393.8 641.2,392.7 641.7,391.5 642.2,390.1 642.6,388.7 643.1,387.2 643.6,385.7 644.1,384.0 644.5,382.3 645.0,380.5 645.5,378.7 646.0,376.8 646.5,374.9 646.9,373.0 647.4,371.0 647.9,369.1 648.4,367.3 648.8,365.4 649.3,363.7 649.8,362.0 650.3,360.4 650.7,358.9 651.2,357.6 651.7,356.4 652.2,355.3 652.6,354.5 653.1,353.8 653.6,353.3 654.1,352.9 654.6,352.8 655.0,352.9 655.5,353.2 656.0,353.7 656.5,354.3 656.9,355.2 657.4,356.2 657.9,357.4 658.4,358.7 658.8,360.2 659.3,361.8 659.8,363.4 660.3,365.2 660.7,367.1 661.2,369.0 661.7,370.9 662.2,372.9 662.6,374.9 663.1,376.8 663.6,378.8 664.1,380.7 664.6,382.5 665.0,384.3 665.5,386.1 666.0,387.7 666.5,389.3 666.9,390.8 667.4,392.2 667.9,393.6 668.4,394.8 668.8,396.0 669.3,397.0 669.8,398.0 670.3,398.9 670.7,399.7 671.2,400.5 671.7,401.1 672.2,401.7 672.6,402.3 673.1,402.8 673.6,403.2 674.1,403.6 674.6,403.9 675.0,404.2 675.5,404.5 676.0,404.7 676.5,404.9 676.9,405.1 677.4,405.2 677.9,405.4 678.4,405.5 678.8,405.6 679.3,405.7 679.8,405.8 680.3,405.8 680.7,405.9 681.2,406.0 681.7,406.0 682.2,406.1 682.7,406.1 683.1,406.1 683.6,406.2" fill="none" stroke="#68b84a" stroke-width="0.8" stroke-dasharray="1.3 1"/>
<polyline points="625.5,401.5 626.0,401.2 626.5,400.9 626.9,400.5 627.4,400.1 627.9,399.6 628.4,399.1 628.8,398.5 629.3,397.8 629.8,397.1 630.3,396.3 630.7,395.4 631.2,394.5 631.7,393.4 632.2,392.4 632.6,391.2 633.1,390.0 633.6,388.8 634.1,387.5 634.5,386.3 635.0,384.9 635.5,383.6 636.0,382.3 636.5,381.1 636.9,379.8 637.4,378.7 637.9,377.6 638.4,376.5 638.8,375.6 639.3,374.8 639.8,374.2 640.3,373.6 640.7,373.2 641.2,373.0 641.7,372.9 642.2,373.0 642.6,373.2 643.1,373.6 643.6,374.1 644.1,374.8 644.5,375.5 645.0,376.5 645.5,377.5 646.0,378.6 646.5,379.8 646.9,381.1 647.4,382.4 647.9,383.7 648.4,385.1 648.8,386.4 649.3,387.8 649.8,389.1 650.3,390.4 650.7,391.7 651.2,392.9 651.7,394.0 652.2,395.1 652.6,396.1 653.1,397.1 653.6,398.0 654.1,398.8 654.6,399.6 655.0,400.2 655.5,400.9 656.0,401.4 656.5,401.9 656.9,402.3 657.4,402.7 657.9,403.1 658.4,403.4 658.8,403.7 659.3,403.9 659.8,404.1 660.3,404.3 660.7,404.4 661.2,404.6 661.7,404.7 662.2,404.8 662.6,404.8 663.1,404.9 663.6,405.0 664.1,405.0 664.6,405.1 665.0,405.1 665.5,405.2 666.0,405.2" fill="none" stroke="#2f55a4" stroke-width="0.8" stroke-dasharray="1.3 1"/>
<polyline points="625.5,401.4 626.0,401.1 626.5,400.8 626.9,400.4 627.4,400.0 627.9,399.5 628.4,398.9 628.8,398.3 629.3,397.6 629.8,396.8 630.3,395.9 630.7,395.0 631.2,394.0 631.7,392.8 632.2,391.6 632.6,390.4 633.1,389.0 633.6,387.6 634.1,386.1 634.5,384.6 635.0,383.0 635.5,381.3 636.0,379.6 636.5,377.9 636.9,376.2 637.4,374.5 637.9,372.8 638.4,371.1 638.8,369.4 639.3,367.8 639.8,366.2 640.3,364.6 640.7,363.2 641.2,361.7 641.7,360.4 642.2,359.1 642.6,357.9 643.1,356.7 643.6,355.7 644.1,354.7 644.5,353.7 645.0,352.8 645.5,352.0 646.0,351.2 646.5,350.5 646.9,349.8 647.4,349.1 647.9,348.5 648.4,348.0 648.8,347.5 649.3,347.1 649.8,346.7 650.3,346.4 650.7,346.1 651.2,346.0 651.7,345.9 652.2,345.9 652.6,346.1 653.1,346.3 653.6,346.6 654.1,347.1 654.6,347.7 655.0,348.5 655.5,349.3 656.0,350.3 656.5,351.5 656.9,352.7 657.4,354.1 657.9,355.6 658.4,357.2 658.8,358.9 659.3,360.7 659.8,362.6 660.3,364.5 660.7,366.5 661.2,368.5 661.7,370.5 662.2,372.5 662.6,374.5 663.1,376.5 663.6,378.4 664.1,380.3 664.6,382.1 665.0,383.8 665.5,385.5 666.0,387.0 666.5,388.4 666.9,389.6 667.4,390.7 667.9,391.6 668.4,392.4 668.8,393.0 669.3,393.3 669.8,393.5 670.3,393.4 670.7,393.1 671.2,392.5 671.7,391.7 672.2,390.6 672.6,389.3 673.1,387.7 673.6,385.9 674.1,383.8 674.6,381.5 675.0,378.9 675.5,376.1 676.0,373.1 676.5,370.0 676.9,366.6 677.4,363.2 677.9,359.7 678.4,356.1 678.8,352.4 679.3,348.8 679.8,345.2 680.3,341.6 680.7,338.1 681.2,334.8 681.7,331.6 682.2,328.7 682.7,326.0 683.1,323.7 683.6,321.7 684.1,320.1 684.6,319.0 685.0,318.3 685.5,318.2 686.0,318.6 686.5,319.6 686.9,321.1 687.4,323.2 687.9,325.8 688.4,328.9 688.8,332.5 689.3,336.4 689.8,340.7 690.3,345.2 690.7,349.8 691.2,354.6 691.7,359.4 692.2,364.1 692.7,368.6 693.1,373.0 693.6,377.2 694.1,381.1 694.6,384.7 695.0,387.9 695.5,390.9 696.0,393.5 696.5,395.8 696.9,397.8 697.4,399.5 697.9,401.0 698.4,402.2 698.8,403.2 699.3,404.1 699.8,404.8 700.3,405.3 700.7,405.8 701.2,406.1 701.7,406.4" fill="none" stroke="#24160c" stroke-width="1.4" stroke-linejoin="round" stroke-linecap="round"/>
<polyline points="625.5,401.4 626.0,401.1 626.5,400.8 626.9,400.4 627.4,400.0 627.9,399.5 628.4,398.9 628.8,398.3 629.3,397.6 629.8,396.8 630.3,395.9 630.7,395.0 631.2,394.0 631.7,392.8 632.2,391.6 632.6,390.4 633.1,389.0 633.6,387.6 634.1,386.1 634.5,384.6 635.0,383.0 635.5,381.3 636.0,379.6 636.5,377.9 636.9,376.2 637.4,374.5 637.9,372.8 638.4,371.1 638.8,369.4 639.3,367.8 639.8,366.2 640.3,364.6 640.7,363.2 641.2,361.7 641.7,360.4 642.2,359.1 642.6,357.9 643.1,356.7 643.6,355.7 644.1,354.7 644.5,353.7 645.0,352.8 645.5,352.0 646.0,351.2 646.5,350.5 646.9,349.8 647.4,349.1 647.9,348.5 648.4,348.0 648.8,347.5 649.3,347.1 649.8,346.7 650.3,346.4 650.7,346.1 651.2,346.0 651.7,345.9 652.2,345.9 652.6,346.1 653.1,346.3 653.6,346.6 654.1,347.1 654.6,347.7 655.0,348.5 655.5,349.3 656.0,350.3 656.5,351.5 656.9,352.7 657.4,354.1 657.9,355.6 658.4,357.2 658.8,358.9 659.3,360.7 659.8,362.6 660.3,364.5 660.7,366.5 661.2,368.5 661.7,370.5 662.2,372.5 662.6,374.5 663.1,376.5 663.6,378.4 664.1,380.3 664.6,382.1 665.0,383.8 665.5,385.5 666.0,387.0 666.5,388.4 666.9,389.6 667.4,390.7 667.9,391.6 668.4,392.4 668.8,393.0 669.3,393.3 669.8,393.5 670.3,393.4 670.7,393.1 671.2,392.5 671.7,391.7 672.2,390.6 672.6,389.3 673.1,387.7 673.6,385.9 674.1,383.8 674.6,381.5 675.0,378.9 675.5,376.1 676.0,373.1 676.5,370.0 676.9,366.6 677.4,363.2 677.9,359.7 678.4,356.1 678.8,352.4 679.3,348.8 679.8,345.2 680.3,341.6 680.7,338.1 681.2,334.8 681.7,331.6 682.2,328.7 682.7,326.0 683.1,323.7 683.6,321.7 684.1,320.1 684.6,319.0 685.0,318.3 685.5,318.2 686.0,318.6 686.5,319.6 686.9,321.1 687.4,323.2 687.9,325.8 688.4,328.9 688.8,332.5 689.3,336.4 689.8,340.7 690.3,345.2 690.7,349.8 691.2,354.6 691.7,359.4 692.2,364.1 692.7,368.6 693.1,373.0 693.6,377.2 694.1,381.1 694.6,384.7 695.0,387.9 695.5,390.9 696.0,393.5 696.5,395.8 696.9,397.8 697.4,399.5 697.9,401.0 698.4,402.2 698.8,403.2 699.3,404.1 699.8,404.8 700.3,405.3 700.7,405.8 701.2,406.1 701.7,406.4" fill="none" stroke="#c8742a" stroke-width="0.65" stroke-dasharray="1.2 0.9" stroke-linejoin="round"/>
<line x1="586.6" y1="417.4" x2="740.6" y2="417.4" stroke="#5a5a5a" stroke-width="1.05" />
<line x1="586.6" y1="416.8" x2="586.6" y2="418.9" stroke="#5a5a5a" stroke-width="0.7" />
<text x="586.6" y="426.8" font-size="7.2" fill="#111" text-anchor="middle" stroke="#111" stroke-width="0.14">108</text>
<line x1="608.6" y1="416.8" x2="608.6" y2="418.9" stroke="#5a5a5a" stroke-width="0.7" />
<text x="608.6" y="426.8" font-size="7.2" fill="#111" text-anchor="middle" stroke="#111" stroke-width="0.14">106</text>
<line x1="630.6" y1="416.8" x2="630.6" y2="418.9" stroke="#5a5a5a" stroke-width="0.7" />
<text x="630.6" y="426.8" font-size="7.2" fill="#111" text-anchor="middle" stroke="#111" stroke-width="0.14">104</text>
<line x1="652.6" y1="416.8" x2="652.6" y2="418.9" stroke="#5a5a5a" stroke-width="0.7" />
<text x="652.6" y="426.8" font-size="7.2" fill="#111" text-anchor="middle" stroke="#111" stroke-width="0.14">102</text>
<line x1="674.6" y1="416.8" x2="674.6" y2="418.9" stroke="#5a5a5a" stroke-width="0.7" />
<text x="674.6" y="426.8" font-size="7.2" fill="#111" text-anchor="middle" stroke="#111" stroke-width="0.14">100</text>
<line x1="696.6" y1="416.8" x2="696.6" y2="418.9" stroke="#5a5a5a" stroke-width="0.7" />
<text x="696.6" y="426.8" font-size="7.2" fill="#111" text-anchor="middle" stroke="#111" stroke-width="0.14">98</text>
<line x1="718.6" y1="416.8" x2="718.6" y2="418.9" stroke="#5a5a5a" stroke-width="0.7" />
<text x="718.6" y="426.8" font-size="7.2" fill="#111" text-anchor="middle" stroke="#111" stroke-width="0.14">96</text>
<line x1="740.6" y1="416.8" x2="740.6" y2="418.9" stroke="#5a5a5a" stroke-width="0.7" />
<text x="740.6" y="426.8" font-size="7.2" fill="#111" text-anchor="middle" stroke="#111" stroke-width="0.14">94</text>
<text x="626.0" y="442.8" font-size="8.4" fill="#111" textLength="75.2" lengthAdjust="spacingAndGlyphs" stroke="#111" stroke-width="0.14">Binding Energy (eV)</text>
<text x="587.1" y="324.8" font-size="8.7" fill="#141414" textLength="53.2" lengthAdjust="spacingAndGlyphs" stroke="#141414" stroke-width="0.16">101.7 eV Si-N</text>
<text x="572.1" y="351.2" font-size="8.7" fill="#141414" textLength="54.3" lengthAdjust="spacingAndGlyphs" stroke="#141414" stroke-width="0.16">102.8 eV Si-O</text>
<text x="625.8" y="354.6" font-size="6.2" fill="#141414">x</text>
<text x="677.3" y="292.9" font-size="8.7" fill="#141414" textLength="7.2" lengthAdjust="spacingAndGlyphs" stroke="#141414" stroke-width="0.16">Si</text>
<text x="684.6" y="289.7" font-size="4.8" fill="#141414" textLength="5.4" lengthAdjust="spacingAndGlyphs">3+</text>
<text x="692.8" y="292.9" font-size="8.7" fill="#141414" textLength="33.8" lengthAdjust="spacingAndGlyphs" stroke="#141414" stroke-width="0.16">101.2 eV</text>
<text x="680.5" y="307.4" font-size="8.7" fill="#141414" textLength="16.2" lengthAdjust="spacingAndGlyphs" stroke="#141414" stroke-width="0.16">Si2p</text>
<text x="697.0" y="310.0" font-size="5.0" fill="#141414" textLength="7.0" lengthAdjust="spacingAndGlyphs">3/2</text>
<text x="706.9" y="307.4" font-size="8.7" fill="#141414" textLength="29.8" lengthAdjust="spacingAndGlyphs" stroke="#141414" stroke-width="0.16">98.7 eV</text>
<text x="14.3" y="480.2" font-size="25" fill="#000" font-weight="bold" textLength="33.3" lengthAdjust="spacingAndGlyphs">(b)</text>
<text x="127.4" y="489.3" font-size="16.6" fill="#000" font-weight="bold" textLength="309.0" lengthAdjust="spacingAndGlyphs">Assignments and Shifts in binding energy</text>
<rect x="2" y="501.1" width="508.6" height="18.0" fill="#4a72b8"/>
<rect x="2" y="519.1" width="79.3" height="16.3" fill="#4a72b8"/>
<rect x="81.3" y="519.1" width="429.3" height="16.3" fill="#d2d8ed"/>
<rect x="2" y="535.4" width="79.3" height="14.0" fill="#4a72b8"/>
<rect x="81.3" y="535.4" width="429.3" height="14.0" fill="#e9ecf6"/>
<rect x="2" y="549.4" width="79.3" height="14.0" fill="#4a72b8"/>
<rect x="81.3" y="549.4" width="429.3" height="14.0" fill="#d2d8ed"/>
<rect x="2" y="563.4" width="79.3" height="13.3" fill="#4a72b8"/>
<rect x="81.3" y="563.4" width="429.3" height="13.3" fill="#e9ecf6"/>
<line x1="81.3" y1="501.1" x2="81.3" y2="576.7" stroke="#eef1f9" stroke-width="0.7" />
<line x1="186.5" y1="501.1" x2="186.5" y2="576.7" stroke="#eef1f9" stroke-width="0.7" />
<line x1="293.4" y1="501.1" x2="293.4" y2="576.7" stroke="#eef1f9" stroke-width="0.7" />
<line x1="404.0" y1="501.1" x2="404.0" y2="576.7" stroke="#eef1f9" stroke-width="0.7" />
<line x1="2.0" y1="535.4" x2="510.6" y2="535.4" stroke="#f1f3fa" stroke-width="0.75" />
<line x1="2.0" y1="549.4" x2="510.6" y2="549.4" stroke="#f1f3fa" stroke-width="0.75" />
<line x1="2.0" y1="563.4" x2="510.6" y2="563.4" stroke="#f1f3fa" stroke-width="0.75" />
<line x1="2.0" y1="519.1" x2="510.6" y2="519.1" stroke="#ffffff" stroke-width="1.1" />
<text x="87.5" y="512.4" font-size="11.2" fill="#e6ebf7" textLength="89.4" lengthAdjust="spacingAndGlyphs">Cyclopropylamine</text>
<text x="197.0" y="512.4" font-size="11.2" fill="#e6ebf7" textLength="82.5" lengthAdjust="spacingAndGlyphs">Cyclobutylamine</text>
<text x="303.2" y="512.4" font-size="11.2" fill="#e6ebf7" textLength="88.3" lengthAdjust="spacingAndGlyphs">Cyclopentylamine</text>
<text x="415.2" y="512.4" font-size="11.2" fill="#e6ebf7" textLength="83.8" lengthAdjust="spacingAndGlyphs">Cyclohexylamine</text>
<text x="18.2" y="530.0" font-size="9.6" fill="#e6ebf7" textLength="7.4" lengthAdjust="spacingAndGlyphs">Si</text>
<text x="26.2" y="526.6" font-size="5.6" fill="#e6ebf7">0</text>
<text x="31.9" y="530.0" font-size="9.6" fill="#e6ebf7" textLength="21.0" lengthAdjust="spacingAndGlyphs">(Si2p</text>
<text x="53.7" y="531.5" font-size="5.6" fill="#e6ebf7" textLength="8.2" lengthAdjust="spacingAndGlyphs">3/2</text>
<text x="61.7" y="530.0" font-size="9.6" fill="#e6ebf7">)</text>
<text x="34.3" y="545.5" font-size="9.6" fill="#e6ebf7" textLength="7.2" lengthAdjust="spacingAndGlyphs">Si</text>
<text x="42.3" y="543.0" font-size="6.8" fill="#e6ebf7" textLength="7.0" lengthAdjust="spacingAndGlyphs">3+</text>
<text x="32.5" y="559.7" font-size="9.6" fill="#e6ebf7" textLength="17.8" lengthAdjust="spacingAndGlyphs">Si-N</text>
<text x="30.8" y="573.9" font-size="9.6" fill="#e6ebf7" textLength="18.2" lengthAdjust="spacingAndGlyphs">Si-O</text>
<text x="49.7" y="575.4" font-size="5.8" fill="#e6ebf7">2</text>
<text x="118.9" y="529.8" font-size="9.0" fill="#141414" textLength="29.3" lengthAdjust="spacingAndGlyphs" stroke="#141414" stroke-width="0.18">98.8 eV</text>
<text x="223.5" y="529.8" font-size="9.0" fill="#141414" textLength="30.4" lengthAdjust="spacingAndGlyphs" stroke="#141414" stroke-width="0.18">98.9 eV</text>
<text x="333.2" y="529.8" font-size="9.0" fill="#141414" textLength="29.6" lengthAdjust="spacingAndGlyphs" stroke="#141414" stroke-width="0.18">98.8 eV</text>
<text x="443.0" y="529.8" font-size="9.0" fill="#141414" textLength="29.6" lengthAdjust="spacingAndGlyphs" stroke="#141414" stroke-width="0.18">98.7 eV</text>
<text x="89.6" y="545.5" font-size="9.0" fill="#141414" textLength="88.1" lengthAdjust="spacingAndGlyphs" stroke="#141414" stroke-width="0.18">101.3 eV ( ΔB.E= +2.5)</text>
<text x="194.8" y="545.5" font-size="9.0" fill="#141414" textLength="89.1" lengthAdjust="spacingAndGlyphs" stroke="#141414" stroke-width="0.18">101.4 eV ( ΔB.E= +2.5)</text>
<text x="303.2" y="545.5" font-size="9.0" fill="#141414" textLength="88.3" lengthAdjust="spacingAndGlyphs" stroke="#141414" stroke-width="0.18">101.3 eV ( ΔB.E= +2.5)</text>
<text x="413.0" y="545.5" font-size="9.0" fill="#141414" textLength="88.7" lengthAdjust="spacingAndGlyphs" stroke="#141414" stroke-width="0.18">101.2 eV ( ΔB.E= +2.5)</text>
<text x="89.6" y="559.9" font-size="9.0" fill="#141414" textLength="88.1" lengthAdjust="spacingAndGlyphs" stroke="#141414" stroke-width="0.18">101.9 eV ( ΔB.E= +3.1)</text>
<text x="194.8" y="559.9" font-size="9.0" fill="#141414" textLength="89.1" lengthAdjust="spacingAndGlyphs" stroke="#141414" stroke-width="0.18">102.1 eV ( ΔB.E= +3.2)</text>
<text x="303.2" y="559.9" font-size="9.0" fill="#141414" textLength="88.3" lengthAdjust="spacingAndGlyphs" stroke="#141414" stroke-width="0.18">101.8 eV ( ΔB.E= +3.0)</text>
<text x="413.0" y="559.9" font-size="9.0" fill="#141414" textLength="88.7" lengthAdjust="spacingAndGlyphs" stroke="#141414" stroke-width="0.18">101.7 eV ( ΔB.E= +3.0)</text>
<text x="89.6" y="573.9" font-size="9.0" fill="#141414" textLength="88.1" lengthAdjust="spacingAndGlyphs" stroke="#141414" stroke-width="0.18">102.8 eV ( ΔB.E= +4.0)</text>
<text x="194.8" y="573.9" font-size="9.0" fill="#141414" textLength="89.1" lengthAdjust="spacingAndGlyphs" stroke="#141414" stroke-width="0.18">103.1 eV ( ΔB.E= +4.2)</text>
<text x="303.2" y="573.9" font-size="9.0" fill="#141414" textLength="88.3" lengthAdjust="spacingAndGlyphs" stroke="#141414" stroke-width="0.18">102.8 eV ( ΔB.E= +4.0)</text>
<text x="413.0" y="573.9" font-size="9.0" fill="#141414" textLength="88.7" lengthAdjust="spacingAndGlyphs" stroke="#141414" stroke-width="0.18">102.8 eV ( ΔB.E= +4.1)</text>
<text x="173.7" y="602.3" font-size="16.6" fill="#000" font-weight="bold" textLength="187.0" lengthAdjust="spacingAndGlyphs">Atomic Concentration (%)</text>
<rect x="0" y="618" width="512.4" height="15.8" fill="#ffffff"/>
<rect x="0" y="634.5" width="512.4" height="16.3" fill="#fff2cc"/>
<rect x="0" y="650.8" width="512.4" height="16.7" fill="#fbe3e7"/>
<rect x="0" y="667.5" width="512.4" height="14.2" fill="#fff2cc"/>
<rect x="0" y="681.7" width="512.4" height="10.5" fill="#fbe3e7"/>
<line x1="0.0" y1="634.5" x2="512.4" y2="634.5" stroke="#ffd45e" stroke-width="1.2" />
<line x1="0.0" y1="650.8" x2="512.4" y2="650.8" stroke="#ffd45e" stroke-width="1.2" />
<line x1="0.0" y1="667.5" x2="512.4" y2="667.5" stroke="#ffd45e" stroke-width="1.2" />
<line x1="0.0" y1="681.7" x2="512.4" y2="681.7" stroke="#ffd45e" stroke-width="1.2" />
<line x1="0.0" y1="692.2" x2="512.4" y2="692.2" stroke="#ffd45e" stroke-width="1.2" />
<line x1="39.3" y1="634.5" x2="39.3" y2="692.2" stroke="#ffd45e" stroke-width="1.1" />
<line x1="111.9" y1="634.5" x2="111.9" y2="692.2" stroke="#ffd45e" stroke-width="1.1" />
<line x1="184.7" y1="634.5" x2="184.7" y2="692.2" stroke="#ffd45e" stroke-width="1.1" />
<line x1="265.1" y1="634.5" x2="265.1" y2="692.2" stroke="#ffd45e" stroke-width="1.1" />
<line x1="353.4" y1="634.5" x2="353.4" y2="692.2" stroke="#ffd45e" stroke-width="1.1" />
<line x1="434.5" y1="634.5" x2="434.5" y2="692.2" stroke="#ffd45e" stroke-width="1.1" />
<text x="53.8" y="626.3" font-size="8.4" fill="#101010" textLength="44.4" lengthAdjust="spacingAndGlyphs" stroke="#101010" stroke-width="0.15">Unmodified</text>
<text x="130.9" y="626.3" font-size="8.4" fill="#101010" textLength="32.6" lengthAdjust="spacingAndGlyphs" stroke="#101010" stroke-width="0.15">After HF</text>
<text x="191.0" y="626.3" font-size="8.4" fill="#101010" textLength="67.2" lengthAdjust="spacingAndGlyphs" stroke="#101010" stroke-width="0.15">Cyclopropylamine</text>
<text x="275.4" y="626.3" font-size="8.4" fill="#101010" textLength="64.6" lengthAdjust="spacingAndGlyphs" stroke="#101010" stroke-width="0.15">Cyclobutylamine</text>
<text x="360.1" y="626.3" font-size="8.4" fill="#101010" textLength="67.2" lengthAdjust="spacingAndGlyphs" stroke="#101010" stroke-width="0.15">Cyclopentylamine</text>
<text x="440.8" y="626.3" font-size="8.4" fill="#101010" textLength="62.7" lengthAdjust="spacingAndGlyphs" stroke="#101010" stroke-width="0.15">Cyclohexylamine</text>
<text x="11.3" y="643.3" font-size="8.2" fill="#101010" stroke="#101010" stroke-width="0.15">Si2p</text>
<text x="76.3" y="643.3" font-size="8.2" fill="#101010" text-anchor="middle" stroke="#101010" stroke-width="0.15">37.0</text>
<text x="148.5" y="643.3" font-size="8.2" fill="#101010" text-anchor="middle" stroke="#101010" stroke-width="0.15">61.5</text>
<text x="224.8" y="643.3" font-size="8.2" fill="#101010" text-anchor="middle" stroke="#101010" stroke-width="0.15">21.7</text>
<text x="309.0" y="643.3" font-size="8.2" fill="#101010" text-anchor="middle" stroke="#101010" stroke-width="0.15">23.6</text>
<text x="393.7" y="643.3" font-size="8.2" fill="#101010" text-anchor="middle" stroke="#101010" stroke-width="0.15">18.1</text>
<text x="472.1" y="643.3" font-size="8.2" fill="#101010" text-anchor="middle" stroke="#101010" stroke-width="0.15">29.2</text>
<text x="11.3" y="659.9" font-size="8.2" fill="#101010" stroke="#101010" stroke-width="0.15">C1s</text>
<text x="76.3" y="659.9" font-size="8.2" fill="#101010" text-anchor="middle" stroke="#101010" stroke-width="0.15">9.8</text>
<text x="148.5" y="659.9" font-size="8.2" fill="#101010" text-anchor="middle" stroke="#101010" stroke-width="0.15">24.4</text>
<text x="224.8" y="659.9" font-size="8.2" fill="#101010" text-anchor="middle" stroke="#101010" stroke-width="0.15">53.3</text>
<text x="309.0" y="659.9" font-size="8.2" fill="#101010" text-anchor="middle" stroke="#101010" stroke-width="0.15">47.4</text>
<text x="393.7" y="659.9" font-size="8.2" fill="#101010" text-anchor="middle" stroke="#101010" stroke-width="0.15">57.4</text>
<text x="472.1" y="659.9" font-size="8.2" fill="#101010" text-anchor="middle" stroke="#101010" stroke-width="0.15">38.6</text>
<text x="11.3" y="675.3" font-size="8.2" fill="#101010" stroke="#101010" stroke-width="0.15">N1s</text>
<text x="76.3" y="675.3" font-size="8.2" fill="#101010" text-anchor="middle" stroke="#101010" stroke-width="0.15">0.0</text>
<text x="148.5" y="675.3" font-size="8.2" fill="#101010" text-anchor="middle" stroke="#101010" stroke-width="0.15">0.0</text>
<text x="224.8" y="675.3" font-size="8.2" fill="#101010" text-anchor="middle" stroke="#101010" stroke-width="0.15">3.6</text>
<text x="309.0" y="675.3" font-size="8.2" fill="#101010" text-anchor="middle" stroke="#101010" stroke-width="0.15">2.8</text>
<text x="393.7" y="675.3" font-size="8.2" fill="#101010" text-anchor="middle" stroke="#101010" stroke-width="0.15">2.2</text>
<text x="472.1" y="675.3" font-size="8.2" fill="#101010" text-anchor="middle" stroke="#101010" stroke-width="0.15">0.8</text>
<text x="11.3" y="689.5" font-size="8.2" fill="#101010" stroke="#101010" stroke-width="0.15">O1s</text>
<text x="76.3" y="689.5" font-size="8.2" fill="#101010" text-anchor="middle" stroke="#101010" stroke-width="0.15">53.2</text>
<text x="148.5" y="689.5" font-size="8.2" fill="#101010" text-anchor="middle" stroke="#101010" stroke-width="0.15">14.1</text>
<text x="224.8" y="689.5" font-size="8.2" fill="#101010" text-anchor="middle" stroke="#101010" stroke-width="0.15">21.4</text>
<text x="309.0" y="689.5" font-size="8.2" fill="#101010" text-anchor="middle" stroke="#101010" stroke-width="0.15">26.2</text>
<text x="393.7" y="689.5" font-size="8.2" fill="#101010" text-anchor="middle" stroke="#101010" stroke-width="0.15">22.3</text>
<text x="472.1" y="689.5" font-size="8.2" fill="#101010" text-anchor="middle" stroke="#101010" stroke-width="0.15">31.4</text>
<text x="521.3" y="480.4" font-size="25" fill="#000" font-weight="bold" textLength="30.8" lengthAdjust="spacingAndGlyphs">(c)</text>
<text x="562.9" y="482.4" font-size="11.2" fill="#222" class="sf" textLength="16.4" lengthAdjust="spacingAndGlyphs">OH</text>
<line x1="566.5" y1="483.3" x2="566.5" y2="496.2" stroke="#222" stroke-width="0.8" />
<rect x="546.9" y="496.1" width="40.7" height="9.0" rx="4.2" fill="url(#sh)"/>
<rect x="546.9" y="496.1" width="40.7" height="9.0" rx="4.2" fill="url(#sv)" stroke="#3a3a3a" stroke-width="0.55"/>
<line x1="568.8" y1="514.5" x2="568.8" y2="538.0" stroke="#333" stroke-width="0.7" />
<path d="M568.8 548.6 L565.4 535.6 Q568.8 538.6 572.2 535.6 Z" fill="#000"/>
<text x="574.0" y="528.8" font-size="9.6" fill="#222" class="sf" textLength="27.0" lengthAdjust="spacingAndGlyphs">5% HF</text>
<text x="564.9" y="570.5" font-size="10.8" fill="#222" class="sf" textLength="7.6" lengthAdjust="spacingAndGlyphs">H</text>
<line x1="567.9" y1="571.4" x2="567.9" y2="585.0" stroke="#222" stroke-width="0.8" />
<rect x="548.1" y="585.0" width="40.4" height="8.8" rx="4.2" fill="url(#sh)"/>
<rect x="548.1" y="585.0" width="40.4" height="8.8" rx="4.2" fill="url(#sv)" stroke="#3a3a3a" stroke-width="0.55"/>
<line x1="583.0" y1="576.9" x2="643.0" y2="576.9" stroke="#777" stroke-width="0.8" />
<path d="M654.8 576.9 L640 573.2 Q643.4 576.9 640 580.6 Z" fill="#000"/>
<text x="594.3" y="590.8" font-size="9.4" fill="#222" class="sf" textLength="65.4" lengthAdjust="spacingAndGlyphs">Thermal reaction</text>
<text x="639.6" y="497.5" font-size="9.6" fill="#222" class="sf" textLength="71.7" lengthAdjust="spacingAndGlyphs">Cyclopropylamine</text>
<polygon points="631.0,511.4 648.9,503.2 648.9,520.6" fill="none" stroke="#222" stroke-width="0.8" />
<line x1="648.9" y1="520.6" x2="654.8" y2="532.0" stroke="#222" stroke-width="0.8" />
<text x="656.4" y="541.8" font-size="10.6" fill="#222" class="sf" textLength="8.4" lengthAdjust="spacingAndGlyphs">N</text>
<line x1="665.6" y1="539.6" x2="672.6" y2="541.8" stroke="#222" stroke-width="0.8" />
<text x="677.1" y="547.3" font-size="10.6" fill="#222" class="sf" textLength="7.6" lengthAdjust="spacingAndGlyphs">H</text>
<circle cx="663.8" cy="544.6" r="0.95" fill="#000"/><circle cx="659.3" cy="546.7" r="0.95" fill="#000"/>
<line x1="655.4" y1="544.0" x2="653.6" y2="548.4" stroke="#222" stroke-width="0.8" />
<text x="651.5" y="559.2" font-size="10.6" fill="#222" class="sf" textLength="7.8" lengthAdjust="spacingAndGlyphs">H</text>
<line x1="664.2" y1="550.3" x2="680.6" y2="575.4" stroke="#333" stroke-width="0.6" />
<path d="M682 577.6 L677.6 573.6 L680.4 574.4 L681.2 571.6 Z" fill="#000"/>
<rect x="666.5" y="585.4" width="40.4" height="9.1" rx="4.2" fill="url(#sh)"/>
<rect x="666.5" y="585.4" width="40.4" height="9.1" rx="4.2" fill="url(#sv)" stroke="#3a3a3a" stroke-width="0.55"/>
<line x1="686.3" y1="585.1" x2="693.5" y2="574.5" stroke="#222" stroke-width="0.8" />
<text x="696.1" y="573.5" font-size="10.6" fill="#222" class="sf" textLength="8.0" lengthAdjust="spacingAndGlyphs">H</text>
<line x1="687.2" y1="609.5" x2="687.2" y2="650.0" stroke="#333" stroke-width="0.6" />
<path d="M687.2 655.6 L685.2 648.4 Q687.2 649.8 689.2 648.4 Z" fill="#000"/>
<path d="M687.2 619.3 C687.6 631 696 640.6 707.4 641.6" fill="none" stroke="#333" stroke-width="0.6"/>
<path d="M710.6 641.8 L705.6 639.6 Q706.8 641.6 705.4 643.4 Z" fill="#000"/>
<text x="715.3" y="646.1" font-size="10.8" fill="#222" class="sf" textLength="7.8" lengthAdjust="spacingAndGlyphs">H</text>
<text x="723.6" y="649.4" font-size="6" fill="#222" class="sf">2</text>
<polygon points="678.8,664.2 699.3,664.2 688.9,679.4" fill="none" stroke="#222" stroke-width="0.8" />
<line x1="688.9" y1="679.4" x2="688.9" y2="693.6" stroke="#222" stroke-width="0.8" />
<text x="686.0" y="702.7" font-size="10.9" fill="#222" class="sf" textLength="16.8" lengthAdjust="spacingAndGlyphs">NH</text>
<line x1="688.9" y1="704.2" x2="688.9" y2="716.6" stroke="#222" stroke-width="0.8" />
<rect x="669.2" y="716.8" width="40.5" height="9.1" rx="4.2" fill="url(#sh)"/>
<rect x="669.2" y="716.8" width="40.5" height="9.1" rx="4.2" fill="url(#sv)" stroke="#3a3a3a" stroke-width="0.55"/>
</svg></body></html>
